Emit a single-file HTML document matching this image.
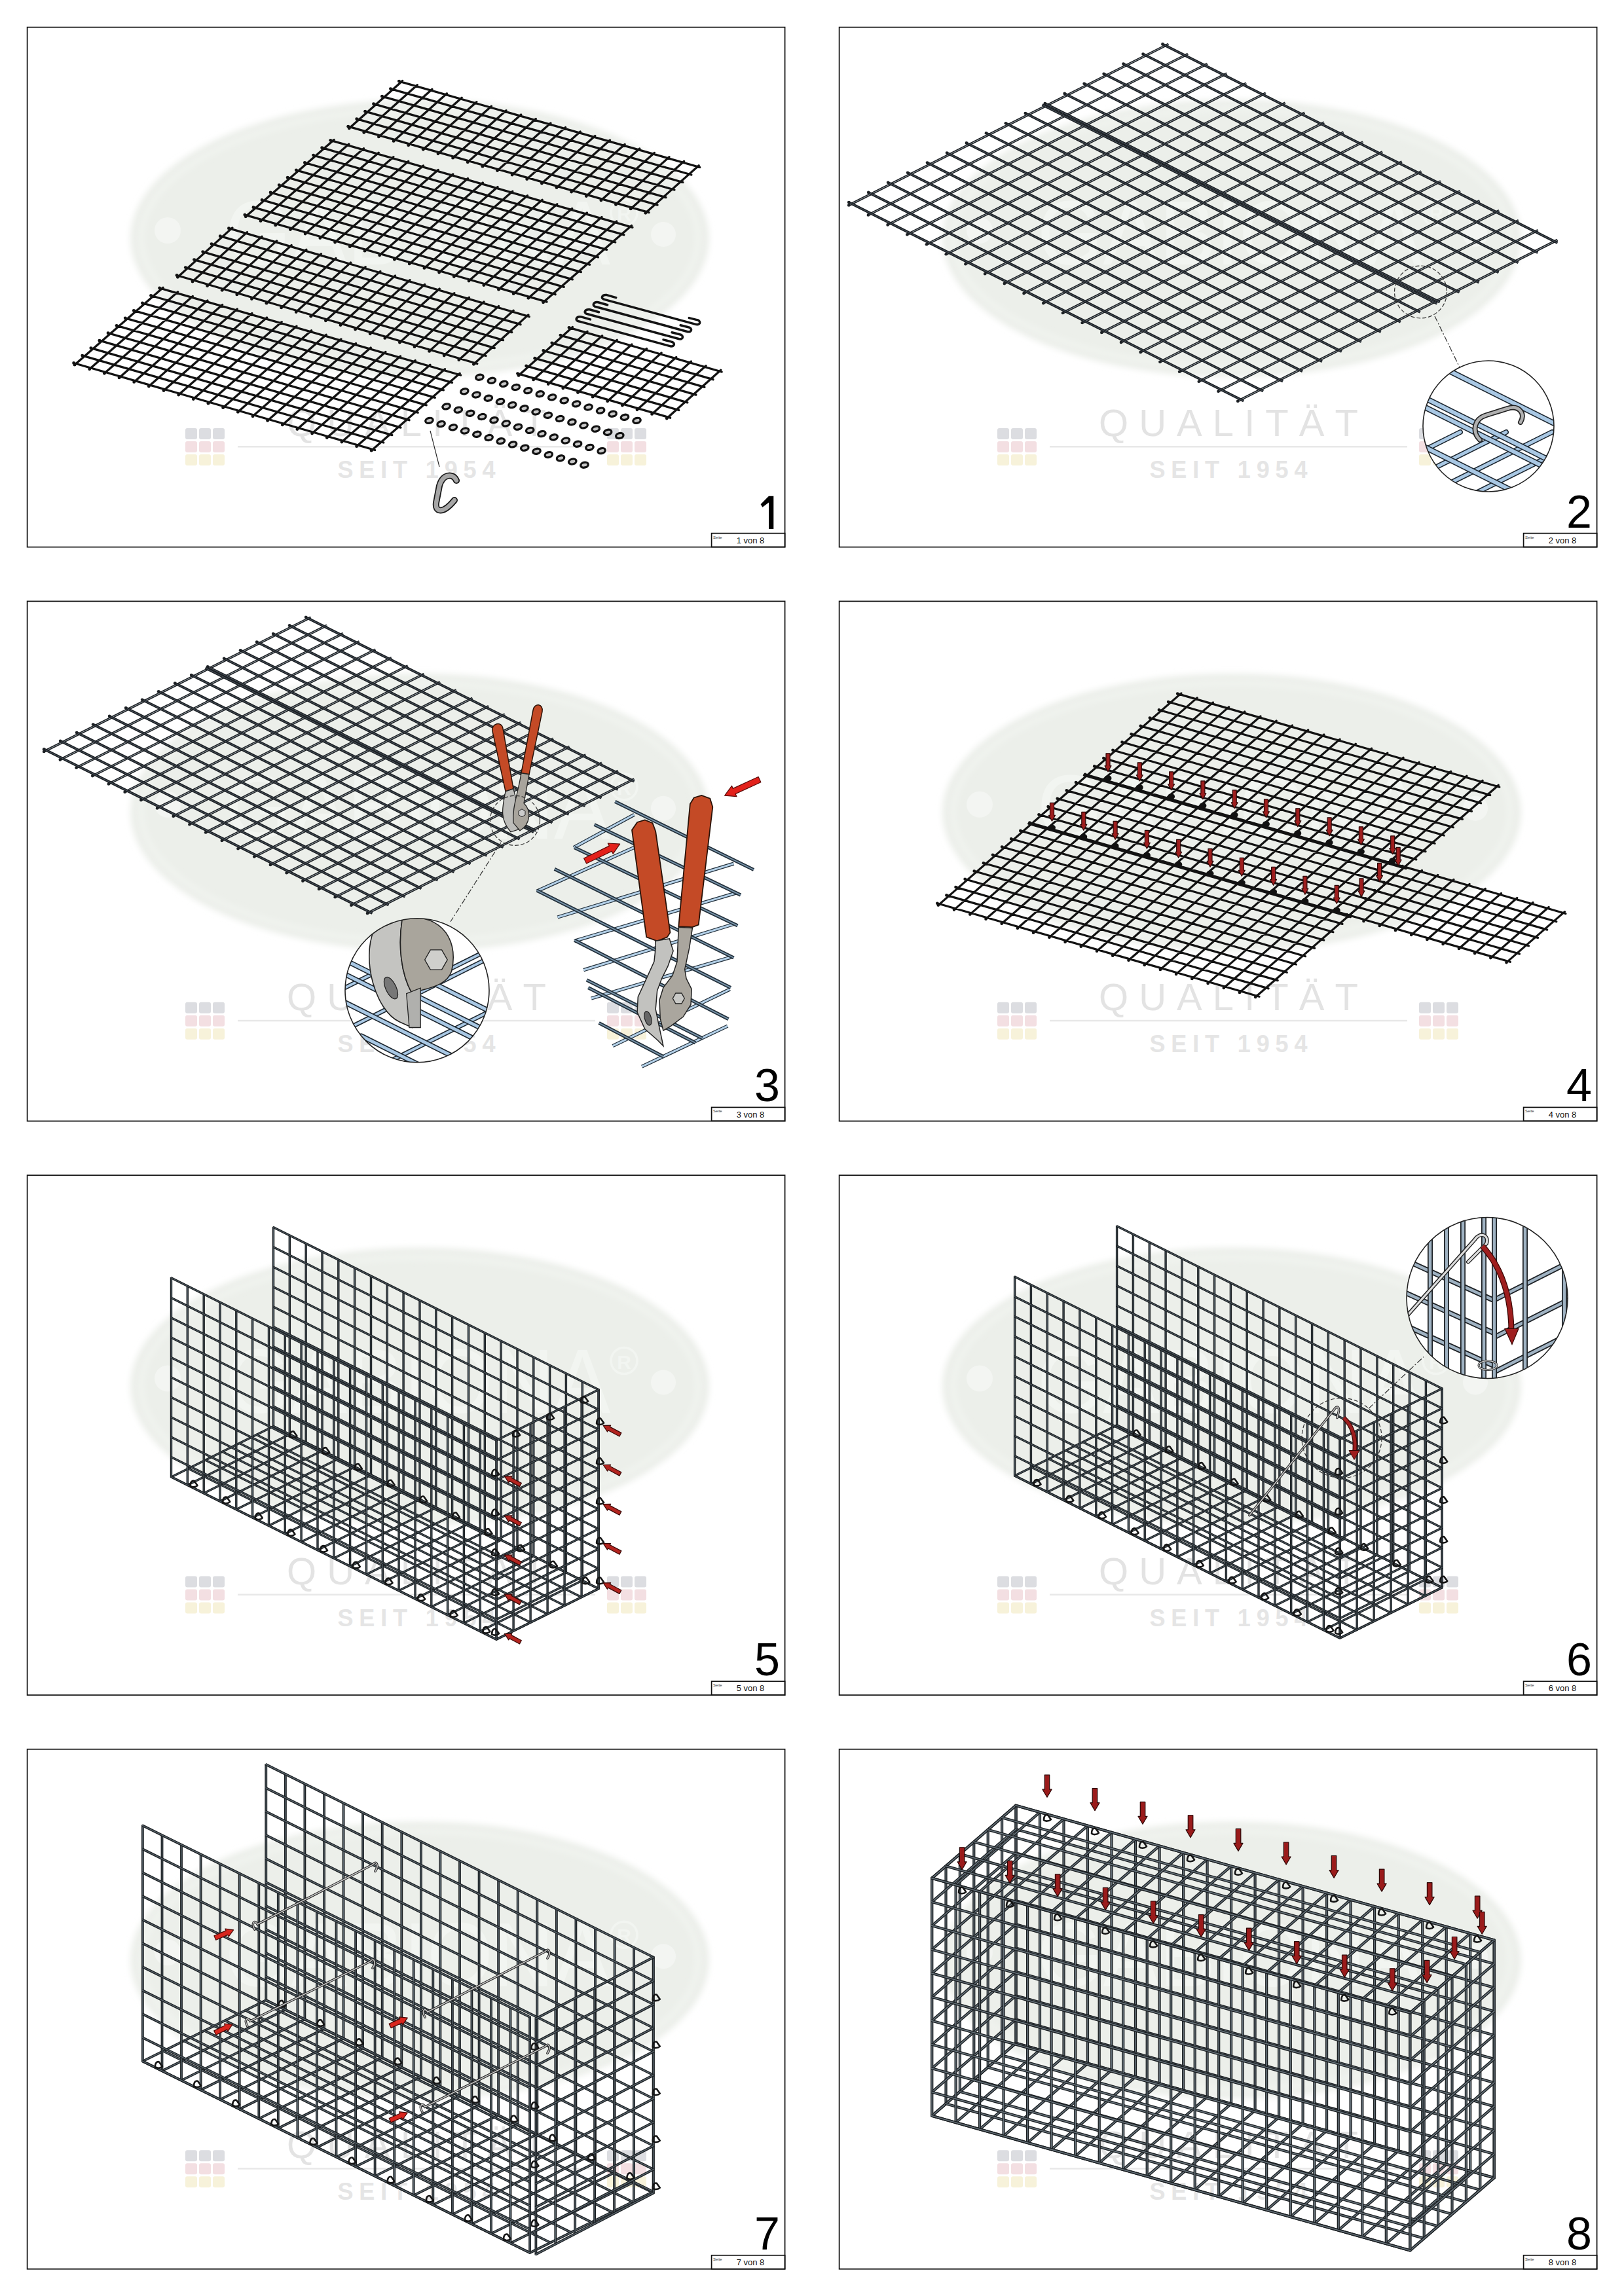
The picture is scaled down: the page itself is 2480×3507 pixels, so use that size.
<!DOCTYPE html><html><head><meta charset="utf-8"><style>html,body{margin:0;padding:0;background:#fff;width:2480px;height:3507px;overflow:hidden;}svg{display:block;}</style></head><body>
<svg width="2480" height="3507" viewBox="0 0 2480 3507">
<defs><filter id="soft" x="-5%" y="-5%" width="110%" height="110%"><feGaussianBlur stdDeviation="5"/></filter></defs>
<rect width="100%" height="100%" fill="#fff"/>
<g transform="translate(0 0)">
<g><ellipse cx="641" cy="364" rx="442" ry="212" fill="#ecefea" filter="url(#soft)"/><ellipse cx="641" cy="364" rx="425" ry="197" fill="none" stroke="#f3f6f2" stroke-width="5" filter="url(#soft)"/><circle cx="256" cy="352" r="20" fill="#f3f5f2"/><circle cx="1013" cy="358" r="19" fill="#f3f5f2"/><text x="344" y="404" font-family="Liberation Sans" font-size="140" fill="#f2f5f1" textLength="588" lengthAdjust="spacingAndGlyphs">GABIONA</text><circle cx="953" cy="325" r="20" fill="none" stroke="#f2f5f1" stroke-width="3.5"/><text x="953" y="337" text-anchor="middle" font-family="Liberation Sans" font-weight="bold" font-size="30" fill="#f2f5f1">R</text><text x="636" y="666" text-anchor="middle" font-family="Liberation Sans" font-size="58" fill="#e3e3e3" textLength="396" lengthAdjust="spacing">QUALITÄT</text><rect x="363" y="681" width="546" height="2.5" fill="#e8e8e8"/><text x="636" y="730" text-anchor="middle" font-family="Liberation Sans" font-weight="bold" font-size="36" fill="#e5e5e5" textLength="241" lengthAdjust="spacing">SEIT 1954</text><rect x="283" y="654" width="18" height="17" rx="3" fill="#dcdde1"/><rect x="304" y="654" width="18" height="17" rx="3" fill="#dcdde1"/><rect x="325" y="654" width="18" height="17" rx="3" fill="#dcdde1"/><rect x="283" y="674" width="18" height="17" rx="3" fill="#f3dfe2"/><rect x="304" y="674" width="18" height="17" rx="3" fill="#f3dfe2"/><rect x="325" y="674" width="18" height="17" rx="3" fill="#f3dfe2"/><rect x="283" y="694" width="18" height="17" rx="3" fill="#f7f2da"/><rect x="304" y="694" width="18" height="17" rx="3" fill="#f7f2da"/><rect x="325" y="694" width="18" height="17" rx="3" fill="#f7f2da"/><rect x="927" y="654" width="18" height="17" rx="3" fill="#dcdde1"/><rect x="948" y="654" width="18" height="17" rx="3" fill="#dcdde1"/><rect x="969" y="654" width="18" height="17" rx="3" fill="#dcdde1"/><rect x="927" y="674" width="18" height="17" rx="3" fill="#f3dfe2"/><rect x="948" y="674" width="18" height="17" rx="3" fill="#f3dfe2"/><rect x="969" y="674" width="18" height="17" rx="3" fill="#f3dfe2"/><rect x="927" y="694" width="18" height="17" rx="3" fill="#f7f2da"/><rect x="948" y="694" width="18" height="17" rx="3" fill="#f7f2da"/><rect x="969" y="694" width="18" height="17" rx="3" fill="#f7f2da"/></g>
<path d="M609.3 124.1L1068.7 255.5M596.4 135.6L1055.8 267M583.4 147.2L1042.8 278.5M570.5 158.7L1029.9 290M557.6 170.2L1017 301.6M544.7 181.7L1004 313.1M531.7 193.2L991.1 324.6M614.6 123.4L533.2 195.9M637.3 129.8L555.8 202.4M659.9 136.3L578.4 208.9M682.5 142.8L601.1 215.4M705.2 149.3L623.7 221.8M727.8 155.7L646.3 228.3M750.4 162.2L669 234.8M773 168.7L691.6 241.2M795.7 175.1L714.2 247.7M818.3 181.6L736.9 254.2M840.9 188.1L759.5 260.6M863.6 194.5L782.1 267.1M886.2 201L804.7 273.6M908.8 207.5L827.4 280.1M931.5 214L850 286.5M954.1 220.4L872.6 293M976.7 226.9L895.3 299.5M999.3 233.4L917.9 305.9M1022 239.8L940.5 312.4M1044.6 246.3L963.2 318.9M1067.2 252.8L985.8 325.3" stroke="#121212" stroke-width="3.3" fill="none" stroke-linecap="round"/><g fill="#121212"><circle cx="609.3" cy="124.1" r="2.4"/><circle cx="596.4" cy="135.6" r="2.4"/><circle cx="583.4" cy="147.2" r="2.4"/><circle cx="570.5" cy="158.7" r="2.4"/><circle cx="557.6" cy="170.2" r="2.4"/><circle cx="544.7" cy="181.7" r="2.4"/><circle cx="531.7" cy="193.2" r="2.4"/><circle cx="533.2" cy="195.9" r="2.4"/><circle cx="555.8" cy="202.4" r="2.4"/><circle cx="578.4" cy="208.9" r="2.4"/><circle cx="601.1" cy="215.4" r="2.4"/><circle cx="623.7" cy="221.8" r="2.4"/><circle cx="646.3" cy="228.3" r="2.4"/><circle cx="669" cy="234.8" r="2.4"/><circle cx="691.6" cy="241.2" r="2.4"/><circle cx="714.2" cy="247.7" r="2.4"/><circle cx="736.9" cy="254.2" r="2.4"/><circle cx="759.5" cy="260.6" r="2.4"/><circle cx="782.1" cy="267.1" r="2.4"/><circle cx="804.7" cy="273.6" r="2.4"/><circle cx="827.4" cy="280.1" r="2.4"/><circle cx="850" cy="286.5" r="2.4"/><circle cx="872.6" cy="293" r="2.4"/><circle cx="895.3" cy="299.5" r="2.4"/><circle cx="917.9" cy="305.9" r="2.4"/><circle cx="940.5" cy="312.4" r="2.4"/><circle cx="963.2" cy="318.9" r="2.4"/><circle cx="985.8" cy="325.3" r="2.4"/></g><path d="M504.7 214.3L965.9 347.3M491.6 225.7L952.8 358.7M478.5 237.1L939.7 370M465.4 248.5L926.6 381.4M452.3 259.8L913.5 392.8M439.2 271.2L900.5 404.2M426.2 282.6L887.4 415.6M413.1 294L874.3 426.9M400 305.4L861.2 438.3M386.9 316.7L848.1 449.7M373.8 328.1L835 461.1M510.1 213.6L375.2 330.8M532.8 220.1L398 337.4M555.5 226.7L420.7 343.9M578.2 233.2L443.4 350.5M600.9 239.8L466.1 357M623.7 246.3L488.8 363.6M646.4 252.9L511.6 370.1M669.1 259.4L534.3 376.7M691.8 266L557 383.2M714.5 272.5L579.7 389.8M737.3 279.1L602.4 396.3M760 285.6L625.2 402.9M782.7 292.2L647.9 409.4M805.4 298.7L670.6 416M828.1 305.3L693.3 422.5M850.9 311.8L716 429.1M873.6 318.4L738.8 435.6M896.3 324.9L761.5 442.2M919 331.5L784.2 448.7M941.7 338L806.9 455.3M964.5 344.6L829.6 461.8" stroke="#121212" stroke-width="3.3" fill="none" stroke-linecap="round"/><g fill="#121212"><circle cx="504.7" cy="214.3" r="2.4"/><circle cx="491.6" cy="225.7" r="2.4"/><circle cx="478.5" cy="237.1" r="2.4"/><circle cx="465.4" cy="248.5" r="2.4"/><circle cx="452.3" cy="259.8" r="2.4"/><circle cx="439.2" cy="271.2" r="2.4"/><circle cx="426.2" cy="282.6" r="2.4"/><circle cx="413.1" cy="294" r="2.4"/><circle cx="400" cy="305.4" r="2.4"/><circle cx="386.9" cy="316.7" r="2.4"/><circle cx="373.8" cy="328.1" r="2.4"/><circle cx="375.2" cy="330.8" r="2.4"/><circle cx="398" cy="337.4" r="2.4"/><circle cx="420.7" cy="343.9" r="2.4"/><circle cx="443.4" cy="350.5" r="2.4"/><circle cx="466.1" cy="357" r="2.4"/><circle cx="488.8" cy="363.6" r="2.4"/><circle cx="511.6" cy="370.1" r="2.4"/><circle cx="534.3" cy="376.7" r="2.4"/><circle cx="557" cy="383.2" r="2.4"/><circle cx="579.7" cy="389.8" r="2.4"/><circle cx="602.4" cy="396.3" r="2.4"/><circle cx="625.2" cy="402.9" r="2.4"/><circle cx="647.9" cy="409.4" r="2.4"/><circle cx="670.6" cy="416" r="2.4"/><circle cx="693.3" cy="422.5" r="2.4"/><circle cx="716" cy="429.1" r="2.4"/><circle cx="738.8" cy="435.6" r="2.4"/><circle cx="761.5" cy="442.2" r="2.4"/><circle cx="784.2" cy="448.7" r="2.4"/><circle cx="806.9" cy="455.3" r="2.4"/><circle cx="829.6" cy="461.8" r="2.4"/></g><path d="M349.4 348.7L808.2 483.7M336.2 360.7L795 495.7M323 372.6L781.7 507.6M309.7 384.6L768.5 519.6M296.5 396.6L755.3 531.6M283.3 408.6L742 543.5M270 420.5L728.8 555.5M354.8 347.9L271.4 423.3M377.4 354.6L294 430M400 361.2L316.6 436.6M422.6 367.9L339.2 443.3M445.2 374.5L361.8 449.9M467.8 381.2L384.4 456.6M490.4 387.8L407 463.2M513 394.5L429.6 469.9M535.6 401.1L452.2 476.5M558.2 407.8L474.8 483.2M580.8 414.4L497.4 489.8M603.4 421.1L520 496.5M626 427.7L542.6 503.1M648.6 434.4L565.2 509.8M671.2 441L587.8 516.4M693.8 447.7L610.4 523.1M716.4 454.3L633 529.7M739 461L655.6 536.4M761.6 467.6L678.2 543M784.2 474.3L700.8 549.7M806.8 480.9L723.4 556.3" stroke="#121212" stroke-width="3.3" fill="none" stroke-linecap="round"/><g fill="#121212"><circle cx="349.4" cy="348.7" r="2.4"/><circle cx="336.2" cy="360.7" r="2.4"/><circle cx="323" cy="372.6" r="2.4"/><circle cx="309.7" cy="384.6" r="2.4"/><circle cx="296.5" cy="396.6" r="2.4"/><circle cx="283.3" cy="408.6" r="2.4"/><circle cx="270" cy="420.5" r="2.4"/><circle cx="271.4" cy="423.3" r="2.4"/><circle cx="294" cy="430" r="2.4"/><circle cx="316.6" cy="436.6" r="2.4"/><circle cx="339.2" cy="443.3" r="2.4"/><circle cx="361.8" cy="449.9" r="2.4"/><circle cx="384.4" cy="456.6" r="2.4"/><circle cx="407" cy="463.2" r="2.4"/><circle cx="429.6" cy="469.9" r="2.4"/><circle cx="452.2" cy="476.5" r="2.4"/><circle cx="474.8" cy="483.2" r="2.4"/><circle cx="497.4" cy="489.8" r="2.4"/><circle cx="520" cy="496.5" r="2.4"/><circle cx="542.6" cy="503.1" r="2.4"/><circle cx="565.2" cy="509.8" r="2.4"/><circle cx="587.8" cy="516.4" r="2.4"/><circle cx="610.4" cy="523.1" r="2.4"/><circle cx="633" cy="529.7" r="2.4"/><circle cx="655.6" cy="536.4" r="2.4"/><circle cx="678.2" cy="543" r="2.4"/><circle cx="700.8" cy="549.7" r="2.4"/><circle cx="723.4" cy="556.3" r="2.4"/></g><path d="M243.6 440L703.6 573M230.5 451.5L690.5 584.4M217.4 462.9L677.4 595.9M204.3 474.4L664.3 607.3M191.2 485.8L651.2 618.8M178.1 497.3L638.1 630.2M165 508.7L625 641.7M151.9 520.2L611.9 653.1M138.8 531.6L598.8 664.6M125.7 543.1L585.7 676M112.6 554.5L572.6 687.5M249 439.3L114 557.2M271.6 445.8L136.7 563.8M294.3 452.4L159.4 570.3M316.9 458.9L182 576.9M339.6 465.5L204.7 583.4M362.3 472L227.3 590M384.9 478.6L250 596.5M407.6 485.1L272.7 603.1M430.2 491.7L295.3 609.6M452.9 498.2L318 616.2M475.6 504.8L340.6 622.7M498.2 511.3L363.3 629.3M520.9 517.9L386 635.8M543.5 524.4L408.6 642.4M566.2 531L431.3 648.9M588.9 537.5L453.9 655.5M611.5 544.1L476.6 662M634.2 550.6L499.3 668.6M656.8 557.2L521.9 675.1M679.5 563.7L544.6 681.7M702.2 570.3L567.2 688.2" stroke="#121212" stroke-width="3.3" fill="none" stroke-linecap="round"/><g fill="#121212"><circle cx="243.6" cy="440" r="2.4"/><circle cx="230.5" cy="451.5" r="2.4"/><circle cx="217.4" cy="462.9" r="2.4"/><circle cx="204.3" cy="474.4" r="2.4"/><circle cx="191.2" cy="485.8" r="2.4"/><circle cx="178.1" cy="497.3" r="2.4"/><circle cx="165" cy="508.7" r="2.4"/><circle cx="151.9" cy="520.2" r="2.4"/><circle cx="138.8" cy="531.6" r="2.4"/><circle cx="125.7" cy="543.1" r="2.4"/><circle cx="112.6" cy="554.5" r="2.4"/><circle cx="114" cy="557.2" r="2.4"/><circle cx="136.7" cy="563.8" r="2.4"/><circle cx="159.4" cy="570.3" r="2.4"/><circle cx="182" cy="576.9" r="2.4"/><circle cx="204.7" cy="583.4" r="2.4"/><circle cx="227.3" cy="590" r="2.4"/><circle cx="250" cy="596.5" r="2.4"/><circle cx="272.7" cy="603.1" r="2.4"/><circle cx="295.3" cy="609.6" r="2.4"/><circle cx="318" cy="616.2" r="2.4"/><circle cx="340.6" cy="622.7" r="2.4"/><circle cx="363.3" cy="629.3" r="2.4"/><circle cx="386" cy="635.8" r="2.4"/><circle cx="408.6" cy="642.4" r="2.4"/><circle cx="431.3" cy="648.9" r="2.4"/><circle cx="453.9" cy="655.5" r="2.4"/><circle cx="476.6" cy="662" r="2.4"/><circle cx="499.3" cy="668.6" r="2.4"/><circle cx="521.9" cy="675.1" r="2.4"/><circle cx="544.6" cy="681.7" r="2.4"/><circle cx="567.2" cy="688.2" r="2.4"/></g><path d="M869 500.4L1102.1 568M855.9 512.1L1089 579.7M842.8 523.8L1075.9 591.4M829.8 535.5L1062.9 603.1M816.7 547.2L1049.8 614.8M803.6 558.9L1036.7 626.5M790.5 570.6L1023.6 638.2M874.4 499.6L792 573.4M897 506.2L814.6 579.9M919.6 512.8L837.2 586.5M942.3 519.3L859.8 593M964.9 525.9L882.5 599.6M987.5 532.4L905.1 606.2M1010.1 539L927.7 612.7M1032.8 545.6L950.4 619.3M1055.4 552.1L973 625.8M1078 558.7L995.6 632.4M1100.7 565.2L1018.3 639" stroke="#121212" stroke-width="3.3" fill="none" stroke-linecap="round"/><g fill="#121212"><circle cx="869" cy="500.4" r="2.4"/><circle cx="855.9" cy="512.1" r="2.4"/><circle cx="842.8" cy="523.8" r="2.4"/><circle cx="829.8" cy="535.5" r="2.4"/><circle cx="816.7" cy="547.2" r="2.4"/><circle cx="803.6" cy="558.9" r="2.4"/><circle cx="790.5" cy="570.6" r="2.4"/><circle cx="792" cy="573.4" r="2.4"/><circle cx="814.6" cy="579.9" r="2.4"/><circle cx="837.2" cy="586.5" r="2.4"/><circle cx="859.8" cy="593" r="2.4"/><circle cx="882.5" cy="599.6" r="2.4"/><circle cx="905.1" cy="606.2" r="2.4"/><circle cx="927.7" cy="612.7" r="2.4"/><circle cx="950.4" cy="619.3" r="2.4"/><circle cx="973" cy="625.8" r="2.4"/><circle cx="995.6" cy="632.4" r="2.4"/><circle cx="1018.3" cy="639" r="2.4"/></g><path d="M940.7 454.6 L926.7 450.6 C918.7 449.6 916.7 456.6 923.7 457.6 L1063.3 495.6 C1070.3 496.6 1070.3 489.6 1064.3 488.6 L1052.3 485.6" stroke="#141414" stroke-width="3.5" fill="none" stroke-linecap="round" stroke-linejoin="round"/><path d="M927.6 465.7 L913.6 461.7 C905.6 460.7 903.6 467.7 910.6 468.7 L1050.2 506.7 C1057.2 507.7 1057.2 500.7 1051.2 499.7 L1039.2 496.7" stroke="#141414" stroke-width="3.5" fill="none" stroke-linecap="round" stroke-linejoin="round"/><path d="M914.5 476.8 L900.5 472.8 C892.5 471.8 890.5 478.8 897.5 479.8 L1037.1 517.8 C1044.1 518.8 1044.1 511.8 1038.1 510.8 L1026.1 507.8" stroke="#141414" stroke-width="3.5" fill="none" stroke-linecap="round" stroke-linejoin="round"/><path d="M901.4 487.9 L887.4 483.9 C879.4 482.9 877.4 489.9 884.4 490.9 L1024 528.9 C1031 529.9 1031 522.9 1025 521.9 L1013 518.9" stroke="#141414" stroke-width="3.5" fill="none" stroke-linecap="round" stroke-linejoin="round"/><g fill="#c8c8c8" stroke="#121212" stroke-width="3.3"><ellipse cx="732.4" cy="576.2" rx="5.8" ry="3.9" transform="rotate(-15 732.4 576.2)"/><ellipse cx="750.9" cy="581.3" rx="5.8" ry="3.9" transform="rotate(-15 750.9 581.3)"/><ellipse cx="769.3" cy="586.4" rx="5.8" ry="3.9" transform="rotate(-15 769.3 586.4)"/><ellipse cx="787.8" cy="591.5" rx="5.8" ry="3.9" transform="rotate(-15 787.8 591.5)"/><ellipse cx="806.3" cy="596.6" rx="5.8" ry="3.9" transform="rotate(-15 806.3 596.6)"/><ellipse cx="824.7" cy="601.7" rx="5.8" ry="3.9" transform="rotate(-15 824.7 601.7)"/><ellipse cx="843.2" cy="606.8" rx="5.8" ry="3.9" transform="rotate(-15 843.2 606.8)"/><ellipse cx="861.7" cy="611.8" rx="5.8" ry="3.9" transform="rotate(-15 861.7 611.8)"/><ellipse cx="880.2" cy="616.9" rx="5.8" ry="3.9" transform="rotate(-15 880.2 616.9)"/><ellipse cx="898.6" cy="622" rx="5.8" ry="3.9" transform="rotate(-15 898.6 622)"/><ellipse cx="917.1" cy="627.1" rx="5.8" ry="3.9" transform="rotate(-15 917.1 627.1)"/><ellipse cx="935.6" cy="632.2" rx="5.8" ry="3.9" transform="rotate(-15 935.6 632.2)"/><ellipse cx="954" cy="637.3" rx="5.8" ry="3.9" transform="rotate(-15 954 637.3)"/><ellipse cx="972.5" cy="642.4" rx="5.8" ry="3.9" transform="rotate(-15 972.5 642.4)"/><ellipse cx="709.3" cy="597.8" rx="5.8" ry="3.9" transform="rotate(-15 709.3 597.8)"/><ellipse cx="727.5" cy="603" rx="5.8" ry="3.9" transform="rotate(-15 727.5 603)"/><ellipse cx="745.8" cy="608.2" rx="5.8" ry="3.9" transform="rotate(-15 745.8 608.2)"/><ellipse cx="764" cy="613.4" rx="5.8" ry="3.9" transform="rotate(-15 764 613.4)"/><ellipse cx="782.2" cy="618.6" rx="5.8" ry="3.9" transform="rotate(-15 782.2 618.6)"/><ellipse cx="800.5" cy="623.8" rx="5.8" ry="3.9" transform="rotate(-15 800.5 623.8)"/><ellipse cx="818.7" cy="629" rx="5.8" ry="3.9" transform="rotate(-15 818.7 629)"/><ellipse cx="836.9" cy="634.3" rx="5.8" ry="3.9" transform="rotate(-15 836.9 634.3)"/><ellipse cx="855.1" cy="639.5" rx="5.8" ry="3.9" transform="rotate(-15 855.1 639.5)"/><ellipse cx="873.4" cy="644.7" rx="5.8" ry="3.9" transform="rotate(-15 873.4 644.7)"/><ellipse cx="891.6" cy="649.9" rx="5.8" ry="3.9" transform="rotate(-15 891.6 649.9)"/><ellipse cx="909.8" cy="655.1" rx="5.8" ry="3.9" transform="rotate(-15 909.8 655.1)"/><ellipse cx="928.1" cy="660.3" rx="5.8" ry="3.9" transform="rotate(-15 928.1 660.3)"/><ellipse cx="946.3" cy="665.5" rx="5.8" ry="3.9" transform="rotate(-15 946.3 665.5)"/><ellipse cx="681.6" cy="620.9" rx="5.8" ry="3.9" transform="rotate(-15 681.6 620.9)"/><ellipse cx="699.8" cy="626.1" rx="5.8" ry="3.9" transform="rotate(-15 699.8 626.1)"/><ellipse cx="718.1" cy="631.3" rx="5.8" ry="3.9" transform="rotate(-15 718.1 631.3)"/><ellipse cx="736.3" cy="636.5" rx="5.8" ry="3.9" transform="rotate(-15 736.3 636.5)"/><ellipse cx="754.5" cy="641.7" rx="5.8" ry="3.9" transform="rotate(-15 754.5 641.7)"/><ellipse cx="772.8" cy="646.9" rx="5.8" ry="3.9" transform="rotate(-15 772.8 646.9)"/><ellipse cx="791" cy="652.1" rx="5.8" ry="3.9" transform="rotate(-15 791 652.1)"/><ellipse cx="809.2" cy="657.4" rx="5.8" ry="3.9" transform="rotate(-15 809.2 657.4)"/><ellipse cx="827.4" cy="662.6" rx="5.8" ry="3.9" transform="rotate(-15 827.4 662.6)"/><ellipse cx="845.7" cy="667.8" rx="5.8" ry="3.9" transform="rotate(-15 845.7 667.8)"/><ellipse cx="863.9" cy="673" rx="5.8" ry="3.9" transform="rotate(-15 863.9 673)"/><ellipse cx="882.1" cy="678.2" rx="5.8" ry="3.9" transform="rotate(-15 882.1 678.2)"/><ellipse cx="900.4" cy="683.4" rx="5.8" ry="3.9" transform="rotate(-15 900.4 683.4)"/><ellipse cx="918.6" cy="688.6" rx="5.8" ry="3.9" transform="rotate(-15 918.6 688.6)"/><ellipse cx="655.4" cy="642.4" rx="5.8" ry="3.9" transform="rotate(-15 655.4 642.4)"/><ellipse cx="673.6" cy="647.6" rx="5.8" ry="3.9" transform="rotate(-15 673.6 647.6)"/><ellipse cx="691.9" cy="652.8" rx="5.8" ry="3.9" transform="rotate(-15 691.9 652.8)"/><ellipse cx="710.1" cy="658" rx="5.8" ry="3.9" transform="rotate(-15 710.1 658)"/><ellipse cx="728.4" cy="663.3" rx="5.8" ry="3.9" transform="rotate(-15 728.4 663.3)"/><ellipse cx="746.6" cy="668.5" rx="5.8" ry="3.9" transform="rotate(-15 746.6 668.5)"/><ellipse cx="764.8" cy="673.7" rx="5.8" ry="3.9" transform="rotate(-15 764.8 673.7)"/><ellipse cx="783.1" cy="678.9" rx="5.8" ry="3.9" transform="rotate(-15 783.1 678.9)"/><ellipse cx="801.3" cy="684.1" rx="5.8" ry="3.9" transform="rotate(-15 801.3 684.1)"/><ellipse cx="819.5" cy="689.3" rx="5.8" ry="3.9" transform="rotate(-15 819.5 689.3)"/><ellipse cx="837.8" cy="694.6" rx="5.8" ry="3.9" transform="rotate(-15 837.8 694.6)"/><ellipse cx="856" cy="699.8" rx="5.8" ry="3.9" transform="rotate(-15 856 699.8)"/><ellipse cx="874.3" cy="705" rx="5.8" ry="3.9" transform="rotate(-15 874.3 705)"/><ellipse cx="892.5" cy="710.2" rx="5.8" ry="3.9" transform="rotate(-15 892.5 710.2)"/></g><line x1="657" y1="658" x2="671" y2="713" stroke="#222" stroke-width="1.1"/><path d="M697 734 C692 722 676 724 671 742 L666 768 C664 782 676 786 694 764" stroke="#1a1a1a" stroke-width="10" fill="none" stroke-linecap="round"/><path d="M697 734 C692 722 676 724 671 742 L666 768 C664 782 676 786 694 764" stroke="#a6a6a6" stroke-width="6.5" fill="none" stroke-linecap="round"/>
<rect x="41.6" y="41.6" width="1157" height="794" fill="none" stroke="#111" stroke-width="1.7"/><rect x="1086.6" y="814.6" width="112" height="20.9" fill="none" stroke="#111" stroke-width="1.7"/><text x="1089" y="822.5" font-family="Liberation Sans" font-size="6" fill="#333">Seite</text><text x="1146" y="829.8" text-anchor="middle" font-family="Liberation Sans" font-size="13" fill="#111">1 von 8</text><path d="M1174 757.8 L1181.3 757.8 L1181.3 808 L1174 808 L1174 767.5 L1164.4 774.8 L1161.6 770.2 Z" fill="#000"/>
</g>
<g transform="translate(1240 0)">
<g><ellipse cx="641" cy="364" rx="442" ry="212" fill="#ecefea" filter="url(#soft)"/><ellipse cx="641" cy="364" rx="425" ry="197" fill="none" stroke="#f3f6f2" stroke-width="5" filter="url(#soft)"/><circle cx="256" cy="352" r="20" fill="#f3f5f2"/><circle cx="1013" cy="358" r="19" fill="#f3f5f2"/><text x="344" y="404" font-family="Liberation Sans" font-size="140" fill="#f2f5f1" textLength="588" lengthAdjust="spacingAndGlyphs">GABIONA</text><circle cx="953" cy="325" r="20" fill="none" stroke="#f2f5f1" stroke-width="3.5"/><text x="953" y="337" text-anchor="middle" font-family="Liberation Sans" font-weight="bold" font-size="30" fill="#f2f5f1">R</text><text x="636" y="666" text-anchor="middle" font-family="Liberation Sans" font-size="58" fill="#e3e3e3" textLength="396" lengthAdjust="spacing">QUALITÄT</text><rect x="363" y="681" width="546" height="2.5" fill="#e8e8e8"/><text x="636" y="730" text-anchor="middle" font-family="Liberation Sans" font-weight="bold" font-size="36" fill="#e5e5e5" textLength="241" lengthAdjust="spacing">SEIT 1954</text><rect x="283" y="654" width="18" height="17" rx="3" fill="#dcdde1"/><rect x="304" y="654" width="18" height="17" rx="3" fill="#dcdde1"/><rect x="325" y="654" width="18" height="17" rx="3" fill="#dcdde1"/><rect x="283" y="674" width="18" height="17" rx="3" fill="#f3dfe2"/><rect x="304" y="674" width="18" height="17" rx="3" fill="#f3dfe2"/><rect x="325" y="674" width="18" height="17" rx="3" fill="#f3dfe2"/><rect x="283" y="694" width="18" height="17" rx="3" fill="#f7f2da"/><rect x="304" y="694" width="18" height="17" rx="3" fill="#f7f2da"/><rect x="325" y="694" width="18" height="17" rx="3" fill="#f7f2da"/><rect x="927" y="654" width="18" height="17" rx="3" fill="#dcdde1"/><rect x="948" y="654" width="18" height="17" rx="3" fill="#dcdde1"/><rect x="969" y="654" width="18" height="17" rx="3" fill="#dcdde1"/><rect x="927" y="674" width="18" height="17" rx="3" fill="#f3dfe2"/><rect x="948" y="674" width="18" height="17" rx="3" fill="#f3dfe2"/><rect x="969" y="674" width="18" height="17" rx="3" fill="#f3dfe2"/><rect x="927" y="694" width="18" height="17" rx="3" fill="#f7f2da"/><rect x="948" y="694" width="18" height="17" rx="3" fill="#f7f2da"/><rect x="969" y="694" width="18" height="17" rx="3" fill="#f7f2da"/></g>
<path d="M544.4 67.3L56.2 313.5M574.1 82.3L85.9 328.4M603.8 97.3L115.6 343.4M633.5 112.2L145.3 358.3M663.2 127.2L175 373.3M692.9 142.1L204.7 388.3M722.6 157.1L234.4 403.2M752.3 172.1L264.1 418.2M782 187L293.8 433.1M811.7 202L323.5 448.1M841.4 216.9L353.2 463.1M871.1 231.9L382.9 478M900.8 246.9L412.6 493M930.5 261.8L442.3 507.9M960.2 276.8L472 522.9M989.9 291.7L501.7 537.9M1019.6 306.7L531.4 552.8M1049.3 321.7L561.1 567.8M1079 336.6L590.8 582.7M1108.7 351.6L620.5 597.7M1138.4 366.5L650.2 612.7" stroke="#1c2024" stroke-width="3.7" fill="none" stroke-linecap="butt"/><path d="M544.4 67.3L56.2 313.5M574.1 82.3L85.9 328.4M603.8 97.3L115.6 343.4M633.5 112.2L145.3 358.3M663.2 127.2L175 373.3M692.9 142.1L204.7 388.3M722.6 157.1L234.4 403.2M752.3 172.1L264.1 418.2M782 187L293.8 433.1M811.7 202L323.5 448.1M841.4 216.9L353.2 463.1M871.1 231.9L382.9 478M900.8 246.9L412.6 493M930.5 261.8L442.3 507.9M960.2 276.8L472 522.9M989.9 291.7L501.7 537.9M1019.6 306.7L531.4 552.8M1049.3 321.7L561.1 567.8M1079 336.6L590.8 582.7M1108.7 351.6L620.5 597.7M1138.4 366.5L650.2 612.7" stroke="#a3adb3" stroke-width="0.9" fill="none" stroke-linecap="butt"/><path d="M535.4 67.4L1138.4 371M505.5 82.5L1108.4 386.1M475.5 97.6L1078.5 401.2M445.6 112.7L1048.5 416.3M415.6 127.8L1018.6 431.4M385.7 142.9L988.6 446.5M355.7 158L958.7 461.6M325.8 173.1L928.7 476.7M295.8 188.2L898.8 491.8M265.9 203.3L868.8 506.9M235.9 218.4L838.9 522M206 233.5L808.9 537.1M176 248.6L779 552.2M146.1 263.7L749 567.3M116.1 278.8L719.1 582.4M86.2 293.9L689.1 597.5M56.2 309L659.2 612.6" stroke="#1c2024" stroke-width="3.9" fill="none" stroke-linecap="butt"/><path d="M535.4 67.4L1138.4 371M505.5 82.5L1108.4 386.1M475.5 97.6L1078.5 401.2M445.6 112.7L1048.5 416.3M415.6 127.8L1018.6 431.4M385.7 142.9L988.6 446.5M355.7 158L958.7 461.6M325.8 173.1L928.7 476.7M295.8 188.2L898.8 491.8M265.9 203.3L868.8 506.9M235.9 218.4L838.9 522M206 233.5L808.9 537.1M176 248.6L779 552.2M146.1 263.7L749 567.3M116.1 278.8L719.1 582.4M86.2 293.9L689.1 597.5M56.2 309L659.2 612.6" stroke="#4b5560" stroke-width="1.0" fill="none" stroke-linecap="butt"/><path d="M351.6 160.1L954.5 463.8" stroke="#1c2024" stroke-width="3.9" fill="none" stroke-linecap="butt"/><path d="M351.6 160.1L954.5 463.8" stroke="#4b5560" stroke-width="1.0" fill="none" stroke-linecap="butt"/><g fill="#1c2024"><circle cx="535.4" cy="67.4" r="2.3"/><circle cx="505.5" cy="82.5" r="2.3"/><circle cx="475.5" cy="97.6" r="2.3"/><circle cx="445.6" cy="112.7" r="2.3"/><circle cx="415.6" cy="127.8" r="2.3"/><circle cx="385.7" cy="142.9" r="2.3"/><circle cx="355.7" cy="158" r="2.3"/><circle cx="325.8" cy="173.1" r="2.3"/><circle cx="295.8" cy="188.2" r="2.3"/><circle cx="265.9" cy="203.3" r="2.3"/><circle cx="235.9" cy="218.4" r="2.3"/><circle cx="206" cy="233.5" r="2.3"/><circle cx="176" cy="248.6" r="2.3"/><circle cx="146.1" cy="263.7" r="2.3"/><circle cx="116.1" cy="278.8" r="2.3"/><circle cx="86.2" cy="293.9" r="2.3"/><circle cx="56.2" cy="309" r="2.3"/><circle cx="56.2" cy="313.5" r="2.3"/><circle cx="85.9" cy="328.4" r="2.3"/><circle cx="115.6" cy="343.4" r="2.3"/><circle cx="145.3" cy="358.3" r="2.3"/><circle cx="175" cy="373.3" r="2.3"/><circle cx="204.7" cy="388.3" r="2.3"/><circle cx="234.4" cy="403.2" r="2.3"/><circle cx="264.1" cy="418.2" r="2.3"/><circle cx="293.8" cy="433.1" r="2.3"/><circle cx="323.5" cy="448.1" r="2.3"/><circle cx="353.2" cy="463.1" r="2.3"/><circle cx="382.9" cy="478" r="2.3"/><circle cx="412.6" cy="493" r="2.3"/><circle cx="442.3" cy="507.9" r="2.3"/><circle cx="472" cy="522.9" r="2.3"/><circle cx="501.7" cy="537.9" r="2.3"/><circle cx="531.4" cy="552.8" r="2.3"/><circle cx="561.1" cy="567.8" r="2.3"/><circle cx="590.8" cy="582.7" r="2.3"/><circle cx="620.5" cy="597.7" r="2.3"/><circle cx="650.2" cy="612.7" r="2.3"/></g><circle cx="929.5" cy="446" r="40" fill="none" stroke="#333" stroke-width="1.2" stroke-dasharray="6 3"/><line x1="951" y1="483" x2="989" y2="561" stroke="#333" stroke-width="1.2" stroke-dasharray="9 3 2 3"/><clipPath id="dc2"><circle cx="1033" cy="651" r="100"/></clipPath><circle cx="1033" cy="651" r="100" fill="#fff"/><g clip-path="url(#dc2)"><path d="M790 760L990 660M860 760L1060 660M930 760L1130 660M1000 760L1200 660M1070 760L1270 660M1140 760L1340 660" stroke="#1d2730" stroke-width="8" fill="none" stroke-linecap="round"/><path d="M790 760L990 660M860 760L1060 660M930 760L1130 660M1000 760L1200 660M1070 760L1270 660M1140 760L1340 660" stroke="#a9c8e4" stroke-width="4.8" fill="none" stroke-linecap="round"/><path d="M900 530L1160 660M900 590L1160 720M900 604L1160 734M900 665L1160 795" stroke="#1d2730" stroke-width="9" fill="none" stroke-linecap="round"/><path d="M900 530L1160 660M900 590L1160 720M900 604L1160 734M900 665L1160 795" stroke="#a9c8e4" stroke-width="5.8" fill="none" stroke-linecap="round"/><path d="M1020 672 C1008 660 1010 640 1030 634 L1062 624 C1080 618 1090 632 1082 645" stroke="#222" stroke-width="8" fill="none" stroke-linecap="round"/><path d="M1020 672 C1008 660 1010 640 1030 634 L1062 624 C1080 618 1090 632 1082 645" stroke="#b0b0b0" stroke-width="4.6" fill="none" stroke-linecap="round"/></g><circle cx="1033" cy="651" r="100" fill="none" stroke="#222" stroke-width="1.6"/>
<rect x="41.6" y="41.6" width="1157" height="794" fill="none" stroke="#111" stroke-width="1.7"/><rect x="1086.6" y="814.6" width="112" height="20.9" fill="none" stroke="#111" stroke-width="1.7"/><text x="1089" y="822.5" font-family="Liberation Sans" font-size="6" fill="#333">Seite</text><text x="1146" y="829.8" text-anchor="middle" font-family="Liberation Sans" font-size="13" fill="#111">2 von 8</text><text x="1191" y="805.5" text-anchor="end" font-family="Liberation Sans" font-size="70" fill="#000">2</text>
</g>
<g transform="translate(0 876.8)">
<g><ellipse cx="641" cy="364" rx="442" ry="212" fill="#ecefea" filter="url(#soft)"/><ellipse cx="641" cy="364" rx="425" ry="197" fill="none" stroke="#f3f6f2" stroke-width="5" filter="url(#soft)"/><circle cx="256" cy="352" r="20" fill="#f3f5f2"/><circle cx="1013" cy="358" r="19" fill="#f3f5f2"/><text x="344" y="404" font-family="Liberation Sans" font-size="140" fill="#f2f5f1" textLength="588" lengthAdjust="spacingAndGlyphs">GABIONA</text><circle cx="953" cy="325" r="20" fill="none" stroke="#f2f5f1" stroke-width="3.5"/><text x="953" y="337" text-anchor="middle" font-family="Liberation Sans" font-weight="bold" font-size="30" fill="#f2f5f1">R</text><text x="636" y="666" text-anchor="middle" font-family="Liberation Sans" font-size="58" fill="#e3e3e3" textLength="396" lengthAdjust="spacing">QUALITÄT</text><rect x="363" y="681" width="546" height="2.5" fill="#e8e8e8"/><text x="636" y="730" text-anchor="middle" font-family="Liberation Sans" font-weight="bold" font-size="36" fill="#e5e5e5" textLength="241" lengthAdjust="spacing">SEIT 1954</text><rect x="283" y="654" width="18" height="17" rx="3" fill="#dcdde1"/><rect x="304" y="654" width="18" height="17" rx="3" fill="#dcdde1"/><rect x="325" y="654" width="18" height="17" rx="3" fill="#dcdde1"/><rect x="283" y="674" width="18" height="17" rx="3" fill="#f3dfe2"/><rect x="304" y="674" width="18" height="17" rx="3" fill="#f3dfe2"/><rect x="325" y="674" width="18" height="17" rx="3" fill="#f3dfe2"/><rect x="283" y="694" width="18" height="17" rx="3" fill="#f7f2da"/><rect x="304" y="694" width="18" height="17" rx="3" fill="#f7f2da"/><rect x="325" y="694" width="18" height="17" rx="3" fill="#f7f2da"/><rect x="927" y="654" width="18" height="17" rx="3" fill="#dcdde1"/><rect x="948" y="654" width="18" height="17" rx="3" fill="#dcdde1"/><rect x="969" y="654" width="18" height="17" rx="3" fill="#dcdde1"/><rect x="927" y="674" width="18" height="17" rx="3" fill="#f3dfe2"/><rect x="948" y="674" width="18" height="17" rx="3" fill="#f3dfe2"/><rect x="969" y="674" width="18" height="17" rx="3" fill="#f3dfe2"/><rect x="927" y="694" width="18" height="17" rx="3" fill="#f7f2da"/><rect x="948" y="694" width="18" height="17" rx="3" fill="#f7f2da"/><rect x="969" y="694" width="18" height="17" rx="3" fill="#f7f2da"/></g>
<path d="M474.6 66L67.1 271.2M499.2 78.4L91.8 283.6M524 90.7L116.5 295.9M548.6 103.1L141.2 308.3M573.4 115.4L165.9 320.6M598 127.8L190.6 333M622.8 140.1L215.3 345.3M647.5 152.5L240 357.7M672.1 164.8L264.7 370M696.9 177.2L289.4 382.4M721.5 189.5L314.1 394.7M746.2 201.9L338.8 407.1M771 214.2L363.5 419.4M795.6 226.6L388.2 431.8M820.4 238.9L412.9 444.1M845 251.3L437.6 456.5M869.8 263.6L462.3 468.8M894.5 276L487 481.2M919.1 288.3L511.7 493.5M943.9 300.7L536.4 505.9M968.5 313L561 518.2" stroke="#1c2024" stroke-width="3.7" fill="none" stroke-linecap="butt"/><path d="M474.6 66L67.1 271.2M499.2 78.4L91.8 283.6M524 90.7L116.5 295.9M548.6 103.1L141.2 308.3M573.4 115.4L165.9 320.6M598 127.8L190.6 333M622.8 140.1L215.3 345.3M647.5 152.5L240 357.7M672.1 164.8L264.7 370M696.9 177.2L289.4 382.4M721.5 189.5L314.1 394.7M746.2 201.9L338.8 407.1M771 214.2L363.5 419.4M795.6 226.6L388.2 431.8M820.4 238.9L412.9 444.1M845 251.3L437.6 456.5M869.8 263.6L462.3 468.8M894.5 276L487 481.2M919.1 288.3L511.7 493.5M943.9 300.7L536.4 505.9M968.5 313L561 518.2" stroke="#a3adb3" stroke-width="0.9" fill="none" stroke-linecap="butt"/><path d="M467.1 66L968.5 316.8M442.1 78.6L943.5 329.3M417.1 91.2L918.5 341.9M392.1 103.8L893.5 354.5M367.1 116.4L868.5 367.1M342.1 129L843.5 379.7M317.1 141.6L818.5 392.3M292.1 154.2L793.5 404.9M267.1 166.8L768.5 417.5M242.1 179.4L743.5 430.1M217.1 191.9L718.5 442.7M192.1 204.5L693.5 455.2M167.1 217.1L668.5 467.8M142.1 229.7L643.5 480.4M117.1 242.3L618.5 493M92.1 254.9L593.5 505.6M67.1 267.5L568.5 518.2" stroke="#1c2024" stroke-width="3.9" fill="none" stroke-linecap="butt"/><path d="M467.1 66L968.5 316.8M442.1 78.6L943.5 329.3M417.1 91.2L918.5 341.9M392.1 103.8L893.5 354.5M367.1 116.4L868.5 367.1M342.1 129L843.5 379.7M317.1 141.6L818.5 392.3M292.1 154.2L793.5 404.9M267.1 166.8L768.5 417.5M242.1 179.4L743.5 430.1M217.1 191.9L718.5 442.7M192.1 204.5L693.5 455.2M167.1 217.1L668.5 467.8M142.1 229.7L643.5 480.4M117.1 242.3L618.5 493M92.1 254.9L593.5 505.6M67.1 267.5L568.5 518.2" stroke="#4b5560" stroke-width="1.0" fill="none" stroke-linecap="butt"/><path d="M313.6 143.4L815 394.1" stroke="#1c2024" stroke-width="3.9" fill="none" stroke-linecap="butt"/><path d="M313.6 143.4L815 394.1" stroke="#4b5560" stroke-width="1.0" fill="none" stroke-linecap="butt"/><g fill="#1c2024"><circle cx="467.1" cy="66" r="2.3"/><circle cx="442.1" cy="78.6" r="2.3"/><circle cx="417.1" cy="91.2" r="2.3"/><circle cx="392.1" cy="103.8" r="2.3"/><circle cx="367.1" cy="116.4" r="2.3"/><circle cx="342.1" cy="129" r="2.3"/><circle cx="317.1" cy="141.6" r="2.3"/><circle cx="292.1" cy="154.2" r="2.3"/><circle cx="267.1" cy="166.8" r="2.3"/><circle cx="242.1" cy="179.4" r="2.3"/><circle cx="217.1" cy="191.9" r="2.3"/><circle cx="192.1" cy="204.5" r="2.3"/><circle cx="167.1" cy="217.1" r="2.3"/><circle cx="142.1" cy="229.7" r="2.3"/><circle cx="117.1" cy="242.3" r="2.3"/><circle cx="92.1" cy="254.9" r="2.3"/><circle cx="67.1" cy="267.5" r="2.3"/><circle cx="67.1" cy="271.2" r="2.3"/><circle cx="91.8" cy="283.6" r="2.3"/><circle cx="116.5" cy="295.9" r="2.3"/><circle cx="141.2" cy="308.3" r="2.3"/><circle cx="165.9" cy="320.6" r="2.3"/><circle cx="190.6" cy="333" r="2.3"/><circle cx="215.3" cy="345.3" r="2.3"/><circle cx="240" cy="357.7" r="2.3"/><circle cx="264.7" cy="370" r="2.3"/><circle cx="289.4" cy="382.4" r="2.3"/><circle cx="314.1" cy="394.7" r="2.3"/><circle cx="338.8" cy="407.1" r="2.3"/><circle cx="363.5" cy="419.4" r="2.3"/><circle cx="388.2" cy="431.8" r="2.3"/><circle cx="412.9" cy="444.1" r="2.3"/><circle cx="437.6" cy="456.5" r="2.3"/><circle cx="462.3" cy="468.8" r="2.3"/><circle cx="487" cy="481.2" r="2.3"/><circle cx="511.7" cy="493.5" r="2.3"/><circle cx="536.4" cy="505.9" r="2.3"/><circle cx="561" cy="518.2" r="2.3"/></g><g transform="translate(786 390) scale(1.0)"><path d="M-34 -150 C-36 -162 -20 -166 -18 -154 L-2 -62 L-14 -58 Z" fill="#c44a26" stroke="#2a1208" stroke-width="1.5"/><path d="M28 -182 C30 -194 44 -192 42 -180 L22 -84 L10 -86 Z" fill="#c44a26" stroke="#2a1208" stroke-width="1.5"/><path d="M-14 -58 L-2 -62 C4 -40 6 -30 2 -10 L6 0 L-6 4 C-22 -14 -20 -30 -14 -58Z" fill="#bdbdba" stroke="#222" stroke-width="1.3"/><path d="M10 -86 L22 -84 L14 -40 C26 -28 24 -8 8 2 L-2 -10 C-4 -34 4 -50 10 -86Z" fill="#a8a49c" stroke="#222" stroke-width="1.3"/><path d="M6 -28 L11 -31 L16 -28 L16 -22 L11 -19 L6 -22Z" fill="#ccc" stroke="#222" stroke-width="1"/></g><circle cx="786.5" cy="376.5" r="38" fill="none" stroke="#333" stroke-width="1.2" stroke-dasharray="6 3"/><line x1="765" y1="410" x2="688" y2="531" stroke="#333" stroke-width="1.2" stroke-dasharray="9 3 2 3"/><clipPath id="dc3"><circle cx="637" cy="636" r="110"/></clipPath><circle cx="637" cy="636" r="110" fill="#fff"/><g clip-path="url(#dc3)"><path d="M525.9 632.3L603.4 593.5M534.5 692.7L758.6 580.6M594.8 744.4L758.6 662.5M663.8 753L758.6 705.6M681 606.4L758.6 567.7" stroke="#1d2730" stroke-width="7" fill="none" stroke-linecap="round"/><path d="M525.9 632.3L603.4 593.5M534.5 692.7L758.6 580.6M594.8 744.4L758.6 662.5M663.8 753L758.6 705.6M681 606.4L758.6 567.7" stroke="#a9c8e4" stroke-width="3.8" fill="none" stroke-linecap="round"/><path d="M525.9 589.2L758.6 705.6M517.2 606.4L741.4 718.5M525.9 653.9L706.9 744.4M551.7 705.6L642.2 750.8M642.2 615.1L758.6 673.3" stroke="#1d2730" stroke-width="8" fill="none" stroke-linecap="round"/><path d="M525.9 589.2L758.6 705.6M517.2 606.4L741.4 718.5M525.9 653.9L706.9 744.4M551.7 705.6L642.2 750.8M642.2 615.1L758.6 673.3" stroke="#a9c8e4" stroke-width="4.8" fill="none" stroke-linecap="round"/><path d="M571.1 543.9 C551.7 589.2 573.3 666.8 609.9 684 L629.3 692.7 L629.3 640.9 C612.1 610.8 607.8 567.7 614.2 526.7Z" fill="#c4c4c1" stroke="#222" stroke-width="1.6"/><path d="M614.2 526.7 C663.8 515.9 702.6 550.4 689.7 606.4 C681 632.3 646.6 632.3 629.3 640.9 C612.1 610.8 607.8 567.7 614.2 526.7Z" fill="#a9a59c" stroke="#222" stroke-width="1.6"/><path d="M648.7 589.2L657.3 574.1L674.6 574.1L683.2 589.2L674.6 604.3L657.3 604.3Z" fill="#cfcfcc" stroke="#222" stroke-width="1.4"/><ellipse cx="597" cy="632.3" rx="8" ry="18" fill="#777" stroke="#222" stroke-width="1.3" transform="rotate(-25 597 632.3)"/><path d="M620.7 640.9L642.2 632.3L642.2 692.7L625 692.7Z" fill="#b0b0ad" stroke="#222" stroke-width="1.3"/></g><circle cx="637" cy="636" r="110" fill="none" stroke="#222" stroke-width="1.6"/><path d="M876 417.8L968.5 367.5M819.9 484.4L970.8 416.6M851.5 524.2L1120.5 442.3M877.2 560.5L1125.2 486.8M891.2 604.9L1120.5 534.7M902.9 648.2L1117 585M935.7 720.8L1114.7 634.2M980.2 752.3L1111.2 690.3" stroke="#23303b" stroke-width="5.4" fill="none" stroke-linecap="butt"/><path d="M876 417.8L968.5 367.5M819.9 484.4L970.8 416.6M851.5 524.2L1120.5 442.3M877.2 560.5L1125.2 486.8M891.2 604.9L1120.5 534.7M902.9 648.2L1117 585M935.7 720.8L1114.7 634.2M980.2 752.3L1111.2 690.3" stroke="#b3d0e8" stroke-width="3.0" fill="none" stroke-linecap="butt"/><path d="M939.2 347.6L1151 451.7M907.6 382.7L1131.1 490.3M877.2 417.8L1126.4 537.1M846.8 450.5L1120.5 586.2M819.9 483.3L1115.9 631.8M877.2 559.3L1112.4 679.8M895.9 620.1L1072.6 709.1M898.3 631.8L1062 716.1M914.6 685.7L1012.9 737.1" stroke="#23303b" stroke-width="5.2" fill="none" stroke-linecap="butt"/><path d="M939.2 347.6L1151 451.7M907.6 382.7L1131.1 490.3M877.2 417.8L1126.4 537.1M846.8 450.5L1120.5 586.2M819.9 483.3L1115.9 631.8M877.2 559.3L1112.4 679.8M895.9 620.1L1072.6 709.1M898.3 631.8L1062 716.1M914.6 685.7L1012.9 737.1" stroke="#7894aa" stroke-width="1.8" fill="none" stroke-linecap="butt"/><path d="M965 390.9L973.1 379.2L984.8 375.6L996.5 380.3L1001.2 393.2L1023.4 547.6L1018.8 554.6L1003.6 560.5L987.2 554.6Z" fill="#c44a26" stroke="#2a1208" stroke-width="1.8"/><path d="M1053.9 351.1L1059.7 341.7L1071.4 338.2L1084.3 342.9L1088.3 355.8L1066.7 535.9L1057.4 539.4L1036.3 538.3Z" fill="#c44a26" stroke="#2a1208" stroke-width="1.8"/><path d="M1000.7 560.5L1022.3 557L1028.1 575.7L1019.9 599.1L1010.6 617.8L1003.6 636.5L1001.2 664.6L1005.9 688L1012.9 720.8L1003.6 711.4L984.8 695L973.1 669.3L974.3 645.9L987.2 617.8L998.9 592.1L1001.2 571Z" fill="#c2c2bf" stroke="#222" stroke-width="1.5"/><path d="M1036.3 539.4L1057.4 540.6L1052.7 571L1045.7 603.8L1048 617.8L1056.2 634.2L1055 657.6L1043.3 676.3L1024.6 690.3L1012.9 697.4L1008.2 678.6L1007.1 650.6L1012.9 631.8L1027 613.1L1034 592.1Z" fill="#aaa69e" stroke="#222" stroke-width="1.5"/><path d="M1027.3 648.2 L1031.8 640.2 L1040.8 640.2 L1045.3 648.2 L1040.8 656.2 L1031.8 656.2Z" fill="#c9c9c6" stroke="#222" stroke-width="1.3"/><ellipse cx="989.5" cy="678.6" rx="5" ry="11" fill="#666" stroke="#222" stroke-width="1.2" transform="rotate(-15 989.5 678.6)"/><path d="M1158.1 309.7L1119.3 327.6L1117.5 323.5L1106.7 338.4L1125 339.9L1123.1 335.8L1161.9 317.9Z" fill="#e3211b" stroke="#5a0a08" stroke-width="1.2" stroke-linejoin="round"/><path d="M895.6 442.2L934.2 423.4L936.2 427.4L946.6 412.3L928.3 411.2L930.2 415.3L891.6 434.2Z" fill="#e3211b" stroke="#5a0a08" stroke-width="1.2" stroke-linejoin="round"/>
<rect x="41.6" y="41.6" width="1157" height="794" fill="none" stroke="#111" stroke-width="1.7"/><rect x="1086.6" y="814.6" width="112" height="20.9" fill="none" stroke="#111" stroke-width="1.7"/><text x="1089" y="822.5" font-family="Liberation Sans" font-size="6" fill="#333">Seite</text><text x="1146" y="829.8" text-anchor="middle" font-family="Liberation Sans" font-size="13" fill="#111">3 von 8</text><text x="1191" y="805.5" text-anchor="end" font-family="Liberation Sans" font-size="70" fill="#000">3</text>
</g>
<g transform="translate(1240 876.8)">
<g><ellipse cx="641" cy="364" rx="442" ry="212" fill="#ecefea" filter="url(#soft)"/><ellipse cx="641" cy="364" rx="425" ry="197" fill="none" stroke="#f3f6f2" stroke-width="5" filter="url(#soft)"/><circle cx="256" cy="352" r="20" fill="#f3f5f2"/><circle cx="1013" cy="358" r="19" fill="#f3f5f2"/><text x="344" y="404" font-family="Liberation Sans" font-size="140" fill="#f2f5f1" textLength="588" lengthAdjust="spacingAndGlyphs">GABIONA</text><circle cx="953" cy="325" r="20" fill="none" stroke="#f2f5f1" stroke-width="3.5"/><text x="953" y="337" text-anchor="middle" font-family="Liberation Sans" font-weight="bold" font-size="30" fill="#f2f5f1">R</text><text x="636" y="666" text-anchor="middle" font-family="Liberation Sans" font-size="58" fill="#e3e3e3" textLength="396" lengthAdjust="spacing">QUALITÄT</text><rect x="363" y="681" width="546" height="2.5" fill="#e8e8e8"/><text x="636" y="730" text-anchor="middle" font-family="Liberation Sans" font-weight="bold" font-size="36" fill="#e5e5e5" textLength="241" lengthAdjust="spacing">SEIT 1954</text><rect x="283" y="654" width="18" height="17" rx="3" fill="#dcdde1"/><rect x="304" y="654" width="18" height="17" rx="3" fill="#dcdde1"/><rect x="325" y="654" width="18" height="17" rx="3" fill="#dcdde1"/><rect x="283" y="674" width="18" height="17" rx="3" fill="#f3dfe2"/><rect x="304" y="674" width="18" height="17" rx="3" fill="#f3dfe2"/><rect x="325" y="674" width="18" height="17" rx="3" fill="#f3dfe2"/><rect x="283" y="694" width="18" height="17" rx="3" fill="#f7f2da"/><rect x="304" y="694" width="18" height="17" rx="3" fill="#f7f2da"/><rect x="325" y="694" width="18" height="17" rx="3" fill="#f7f2da"/><rect x="927" y="654" width="18" height="17" rx="3" fill="#dcdde1"/><rect x="948" y="654" width="18" height="17" rx="3" fill="#dcdde1"/><rect x="969" y="654" width="18" height="17" rx="3" fill="#dcdde1"/><rect x="927" y="674" width="18" height="17" rx="3" fill="#f3dfe2"/><rect x="948" y="674" width="18" height="17" rx="3" fill="#f3dfe2"/><rect x="969" y="674" width="18" height="17" rx="3" fill="#f3dfe2"/><rect x="927" y="694" width="18" height="17" rx="3" fill="#f7f2da"/><rect x="948" y="694" width="18" height="17" rx="3" fill="#f7f2da"/><rect x="969" y="694" width="18" height="17" rx="3" fill="#f7f2da"/></g>
<path d="M901.5 446.3L1150.9 518.7M887.4 458.7L1136.8 531M873.2 471L1122.7 543.3M859.1 483.3L1108.6 555.6M845 495.6L1094.5 567.9M830.9 507.9L1080.4 580.2M816.8 520.2L1066.3 592.5M907.2 445.6L818.3 523.1M931.4 452.6L842.5 530.1M955.7 459.6L866.8 537.1M979.9 466.6L891 544.2M1004.1 473.6L915.2 551.2M1028.3 480.7L939.4 558.2M1052.5 487.7L963.6 565.2M1076.8 494.7L987.9 572.2M1101 501.7L1012.1 579.3M1125.2 508.7L1036.3 586.3M1149.4 515.8L1060.5 593.3" stroke="#121212" stroke-width="3.2" fill="none" stroke-linecap="round"/><g fill="#121212"><circle cx="901.5" cy="446.3" r="2.3"/><circle cx="887.4" cy="458.7" r="2.3"/><circle cx="873.2" cy="471" r="2.3"/><circle cx="859.1" cy="483.3" r="2.3"/><circle cx="845" cy="495.6" r="2.3"/><circle cx="830.9" cy="507.9" r="2.3"/><circle cx="816.8" cy="520.2" r="2.3"/><circle cx="818.3" cy="523.1" r="2.3"/><circle cx="842.5" cy="530.1" r="2.3"/><circle cx="866.8" cy="537.1" r="2.3"/><circle cx="891" cy="544.2" r="2.3"/><circle cx="915.2" cy="551.2" r="2.3"/><circle cx="939.4" cy="558.2" r="2.3"/><circle cx="963.6" cy="565.2" r="2.3"/><circle cx="987.9" cy="572.2" r="2.3"/><circle cx="1012.1" cy="579.3" r="2.3"/><circle cx="1036.3" cy="586.3" r="2.3"/><circle cx="1060.5" cy="593.3" r="2.3"/></g><path d="M558.2 182.8L1049.8 325.4M544.1 195.2L1035.7 337.7M529.9 207.5L1021.6 350M515.8 219.8L1007.5 362.3M501.7 232.1L993.4 374.6M487.6 244.4L979.3 386.9M473.5 256.7L965.2 399.2M459.4 269L951.1 411.5M445.3 281.3L937 423.8M431.2 293.6L922.8 436.1M417.1 305.9L908.7 448.5M403 318.3L894.6 460.8M388.8 330.6L880.5 473.1M374.7 342.9L866.4 485.4M360.6 355.2L852.3 497.7M346.5 367.5L838.2 510M332.4 379.8L824.1 522.3M318.3 392.1L810 534.6M304.2 404.4L795.9 546.9M290.1 416.7L781.7 559.2M276 429L767.6 571.6M261.9 441.4L753.5 583.9M247.7 453.7L739.4 596.2M233.6 466L725.3 608.5M219.5 478.3L711.2 620.8M205.4 490.6L697.1 633.1M191.3 502.9L683 645.4M563.9 182.1L192.8 505.8M588.1 189.1L217 512.8M612.4 196.1L241.3 519.8M636.6 203.1L265.5 526.9M660.8 210.1L289.7 533.9M685 217.2L313.9 540.9M709.2 224.2L338.1 547.9M733.5 231.2L362.4 554.9M757.7 238.2L386.6 562M781.9 245.2L410.8 569M806.1 252.3L435 576M830.3 259.3L459.2 583M854.6 266.3L483.5 590M878.8 273.3L507.7 597.1M903 280.3L531.9 604.1M927.2 287.4L556.1 611.1M951.4 294.4L580.3 618.1M975.7 301.4L604.6 625.1M999.9 308.4L628.8 632.2M1024.1 315.4L653 639.2M1048.3 322.5L677.2 646.2" stroke="#121212" stroke-width="3.2" fill="none" stroke-linecap="round"/><path d="M415.4 307.4L907 449.9" stroke="#121212" stroke-width="3.2" fill="none" stroke-linecap="round"/><path d="M330.7 381.3L822.4 523.8" stroke="#121212" stroke-width="3.2" fill="none" stroke-linecap="round"/><g fill="#121212"><circle cx="558.2" cy="182.8" r="2.3"/><circle cx="544.1" cy="195.2" r="2.3"/><circle cx="529.9" cy="207.5" r="2.3"/><circle cx="515.8" cy="219.8" r="2.3"/><circle cx="501.7" cy="232.1" r="2.3"/><circle cx="487.6" cy="244.4" r="2.3"/><circle cx="473.5" cy="256.7" r="2.3"/><circle cx="459.4" cy="269" r="2.3"/><circle cx="445.3" cy="281.3" r="2.3"/><circle cx="431.2" cy="293.6" r="2.3"/><circle cx="417.1" cy="305.9" r="2.3"/><circle cx="403" cy="318.3" r="2.3"/><circle cx="388.8" cy="330.6" r="2.3"/><circle cx="374.7" cy="342.9" r="2.3"/><circle cx="360.6" cy="355.2" r="2.3"/><circle cx="346.5" cy="367.5" r="2.3"/><circle cx="332.4" cy="379.8" r="2.3"/><circle cx="318.3" cy="392.1" r="2.3"/><circle cx="304.2" cy="404.4" r="2.3"/><circle cx="290.1" cy="416.7" r="2.3"/><circle cx="276" cy="429" r="2.3"/><circle cx="261.9" cy="441.4" r="2.3"/><circle cx="247.7" cy="453.7" r="2.3"/><circle cx="233.6" cy="466" r="2.3"/><circle cx="219.5" cy="478.3" r="2.3"/><circle cx="205.4" cy="490.6" r="2.3"/><circle cx="191.3" cy="502.9" r="2.3"/><circle cx="192.8" cy="505.8" r="2.3"/><circle cx="217" cy="512.8" r="2.3"/><circle cx="241.3" cy="519.8" r="2.3"/><circle cx="265.5" cy="526.9" r="2.3"/><circle cx="289.7" cy="533.9" r="2.3"/><circle cx="313.9" cy="540.9" r="2.3"/><circle cx="338.1" cy="547.9" r="2.3"/><circle cx="362.4" cy="554.9" r="2.3"/><circle cx="386.6" cy="562" r="2.3"/><circle cx="410.8" cy="569" r="2.3"/><circle cx="435" cy="576" r="2.3"/><circle cx="459.2" cy="583" r="2.3"/><circle cx="483.5" cy="590" r="2.3"/><circle cx="507.7" cy="597.1" r="2.3"/><circle cx="531.9" cy="604.1" r="2.3"/><circle cx="556.1" cy="611.1" r="2.3"/><circle cx="580.3" cy="618.1" r="2.3"/><circle cx="604.6" cy="625.1" r="2.3"/><circle cx="628.8" cy="632.2" r="2.3"/><circle cx="653" cy="639.2" r="2.3"/><circle cx="677.2" cy="646.2" r="2.3"/></g><ellipse cx="452" cy="312" rx="5.5" ry="4.5" fill="#111"/><path d="M449 274L449 293L447 293L452 302L457 293L455 293L455 274Z" fill="#9e1e1e" stroke="#2a0505" stroke-width="1.2" stroke-linejoin="round"/><ellipse cx="500.3" cy="326" rx="5.5" ry="4.5" fill="#111"/><path d="M497.3 288L497.3 307L495.3 307L500.3 316L505.3 307L503.3 307L503.3 288Z" fill="#9e1e1e" stroke="#2a0505" stroke-width="1.2" stroke-linejoin="round"/><ellipse cx="548.6" cy="340" rx="5.5" ry="4.5" fill="#111"/><path d="M545.6 302L545.6 321L543.6 321L548.6 330L553.6 321L551.6 321L551.6 302Z" fill="#9e1e1e" stroke="#2a0505" stroke-width="1.2" stroke-linejoin="round"/><ellipse cx="596.9" cy="354" rx="5.5" ry="4.5" fill="#111"/><path d="M593.9 316L593.9 335L591.9 335L596.9 344L601.9 335L599.9 335L599.9 316Z" fill="#9e1e1e" stroke="#2a0505" stroke-width="1.2" stroke-linejoin="round"/><ellipse cx="645.2" cy="368" rx="5.5" ry="4.5" fill="#111"/><path d="M642.2 330L642.2 349L640.2 349L645.2 358L650.2 349L648.2 349L648.2 330Z" fill="#9e1e1e" stroke="#2a0505" stroke-width="1.2" stroke-linejoin="round"/><ellipse cx="693.5" cy="382" rx="5.5" ry="4.5" fill="#111"/><path d="M690.5 344L690.5 363L688.5 363L693.5 372L698.5 363L696.5 363L696.5 344Z" fill="#9e1e1e" stroke="#2a0505" stroke-width="1.2" stroke-linejoin="round"/><ellipse cx="741.8" cy="396" rx="5.5" ry="4.5" fill="#111"/><path d="M738.8 358L738.8 377L736.8 377L741.8 386L746.8 377L744.8 377L744.8 358Z" fill="#9e1e1e" stroke="#2a0505" stroke-width="1.2" stroke-linejoin="round"/><ellipse cx="790.1" cy="410" rx="5.5" ry="4.5" fill="#111"/><path d="M787.1 372L787.1 391L785.1 391L790.1 400L795.1 391L793.1 391L793.1 372Z" fill="#9e1e1e" stroke="#2a0505" stroke-width="1.2" stroke-linejoin="round"/><ellipse cx="838.4" cy="424" rx="5.5" ry="4.5" fill="#111"/><path d="M835.4 386L835.4 405L833.4 405L838.4 414L843.4 405L841.4 405L841.4 386Z" fill="#9e1e1e" stroke="#2a0505" stroke-width="1.2" stroke-linejoin="round"/><ellipse cx="886.7" cy="438" rx="5.5" ry="4.5" fill="#111"/><path d="M883.7 400L883.7 419L881.7 419L886.7 428L891.7 419L889.7 419L889.7 400Z" fill="#9e1e1e" stroke="#2a0505" stroke-width="1.2" stroke-linejoin="round"/><ellipse cx="366.5" cy="387.5" rx="5.5" ry="4.5" fill="#111"/><path d="M363.5 349.5L363.5 368.5L361.5 368.5L366.5 377.5L371.5 368.5L369.5 368.5L369.5 349.5Z" fill="#9e1e1e" stroke="#2a0505" stroke-width="1.2" stroke-linejoin="round"/><ellipse cx="414.8" cy="401.5" rx="5.5" ry="4.5" fill="#111"/><path d="M411.8 363.5L411.8 382.5L409.8 382.5L414.8 391.5L419.8 382.5L417.8 382.5L417.8 363.5Z" fill="#9e1e1e" stroke="#2a0505" stroke-width="1.2" stroke-linejoin="round"/><ellipse cx="463.1" cy="415.5" rx="5.5" ry="4.5" fill="#111"/><path d="M460.1 377.5L460.1 396.5L458.1 396.5L463.1 405.5L468.1 396.5L466.1 396.5L466.1 377.5Z" fill="#9e1e1e" stroke="#2a0505" stroke-width="1.2" stroke-linejoin="round"/><ellipse cx="511.4" cy="429.5" rx="5.5" ry="4.5" fill="#111"/><path d="M508.4 391.5L508.4 410.5L506.4 410.5L511.4 419.5L516.4 410.5L514.4 410.5L514.4 391.5Z" fill="#9e1e1e" stroke="#2a0505" stroke-width="1.2" stroke-linejoin="round"/><ellipse cx="559.7" cy="443.5" rx="5.5" ry="4.5" fill="#111"/><path d="M556.7 405.5L556.7 424.5L554.7 424.5L559.7 433.5L564.7 424.5L562.7 424.5L562.7 405.5Z" fill="#9e1e1e" stroke="#2a0505" stroke-width="1.2" stroke-linejoin="round"/><ellipse cx="608" cy="457.5" rx="5.5" ry="4.5" fill="#111"/><path d="M605 419.5L605 438.5L603 438.5L608 447.5L613 438.5L611 438.5L611 419.5Z" fill="#9e1e1e" stroke="#2a0505" stroke-width="1.2" stroke-linejoin="round"/><ellipse cx="656.3" cy="471.5" rx="5.5" ry="4.5" fill="#111"/><path d="M653.3 433.5L653.3 452.5L651.3 452.5L656.3 461.5L661.3 452.5L659.3 452.5L659.3 433.5Z" fill="#9e1e1e" stroke="#2a0505" stroke-width="1.2" stroke-linejoin="round"/><ellipse cx="704.6" cy="485.5" rx="5.5" ry="4.5" fill="#111"/><path d="M701.6 447.5L701.6 466.5L699.6 466.5L704.6 475.5L709.6 466.5L707.6 466.5L707.6 447.5Z" fill="#9e1e1e" stroke="#2a0505" stroke-width="1.2" stroke-linejoin="round"/><ellipse cx="752.9" cy="499.5" rx="5.5" ry="4.5" fill="#111"/><path d="M749.9 461.5L749.9 480.5L747.9 480.5L752.9 489.5L757.9 480.5L755.9 480.5L755.9 461.5Z" fill="#9e1e1e" stroke="#2a0505" stroke-width="1.2" stroke-linejoin="round"/><ellipse cx="801.2" cy="513.5" rx="5.5" ry="4.5" fill="#111"/><path d="M798.2 475.5L798.2 494.5L796.2 494.5L801.2 503.5L806.2 494.5L804.2 494.5L804.2 475.5Z" fill="#9e1e1e" stroke="#2a0505" stroke-width="1.2" stroke-linejoin="round"/><path d="M892.2 417.5L892.2 436.5L890.2 436.5L895.2 445.5L900.2 436.5L898.2 436.5L898.2 417.5Z" fill="#9e1e1e" stroke="#2a0505" stroke-width="1.2" stroke-linejoin="round"/><path d="M836 465L836 484L834 484L839 493L844 484L842 484L842 465Z" fill="#9e1e1e" stroke="#2a0505" stroke-width="1.2" stroke-linejoin="round"/><path d="M863.6 441.6L863.6 460.6L861.6 460.6L866.6 469.6L871.6 460.6L869.6 460.6L869.6 441.6Z" fill="#9e1e1e" stroke="#2a0505" stroke-width="1.2" stroke-linejoin="round"/>
<rect x="41.6" y="41.6" width="1157" height="794" fill="none" stroke="#111" stroke-width="1.7"/><rect x="1086.6" y="814.6" width="112" height="20.9" fill="none" stroke="#111" stroke-width="1.7"/><text x="1089" y="822.5" font-family="Liberation Sans" font-size="6" fill="#333">Seite</text><text x="1146" y="829.8" text-anchor="middle" font-family="Liberation Sans" font-size="13" fill="#111">4 von 8</text><text x="1191" y="805.5" text-anchor="end" font-family="Liberation Sans" font-size="70" fill="#000">4</text>
</g>
<g transform="translate(0 1753.5)">
<g><ellipse cx="641" cy="364" rx="442" ry="212" fill="#ecefea" filter="url(#soft)"/><ellipse cx="641" cy="364" rx="425" ry="197" fill="none" stroke="#f3f6f2" stroke-width="5" filter="url(#soft)"/><circle cx="256" cy="352" r="20" fill="#f3f5f2"/><circle cx="1013" cy="358" r="19" fill="#f3f5f2"/><text x="344" y="404" font-family="Liberation Sans" font-size="140" fill="#f2f5f1" textLength="588" lengthAdjust="spacingAndGlyphs">GABIONA</text><circle cx="953" cy="325" r="20" fill="none" stroke="#f2f5f1" stroke-width="3.5"/><text x="953" y="337" text-anchor="middle" font-family="Liberation Sans" font-weight="bold" font-size="30" fill="#f2f5f1">R</text><text x="636" y="666" text-anchor="middle" font-family="Liberation Sans" font-size="58" fill="#e3e3e3" textLength="396" lengthAdjust="spacing">QUALITÄT</text><rect x="363" y="681" width="546" height="2.5" fill="#e8e8e8"/><text x="636" y="730" text-anchor="middle" font-family="Liberation Sans" font-weight="bold" font-size="36" fill="#e5e5e5" textLength="241" lengthAdjust="spacing">SEIT 1954</text><rect x="283" y="654" width="18" height="17" rx="3" fill="#dcdde1"/><rect x="304" y="654" width="18" height="17" rx="3" fill="#dcdde1"/><rect x="325" y="654" width="18" height="17" rx="3" fill="#dcdde1"/><rect x="283" y="674" width="18" height="17" rx="3" fill="#f3dfe2"/><rect x="304" y="674" width="18" height="17" rx="3" fill="#f3dfe2"/><rect x="325" y="674" width="18" height="17" rx="3" fill="#f3dfe2"/><rect x="283" y="694" width="18" height="17" rx="3" fill="#f7f2da"/><rect x="304" y="694" width="18" height="17" rx="3" fill="#f7f2da"/><rect x="325" y="694" width="18" height="17" rx="3" fill="#f7f2da"/><rect x="927" y="654" width="18" height="17" rx="3" fill="#dcdde1"/><rect x="948" y="654" width="18" height="17" rx="3" fill="#dcdde1"/><rect x="969" y="654" width="18" height="17" rx="3" fill="#dcdde1"/><rect x="927" y="674" width="18" height="17" rx="3" fill="#f3dfe2"/><rect x="948" y="674" width="18" height="17" rx="3" fill="#f3dfe2"/><rect x="969" y="674" width="18" height="17" rx="3" fill="#f3dfe2"/><rect x="927" y="694" width="18" height="17" rx="3" fill="#f7f2da"/><rect x="948" y="694" width="18" height="17" rx="3" fill="#f7f2da"/><rect x="969" y="694" width="18" height="17" rx="3" fill="#f7f2da"/></g>
<path d="M417.5 120.2L417.5 426M442.3 132.6L442.3 438.4M467.2 145L467.2 450.8M492 157.4L492 463.2M516.8 169.8L516.8 475.6M541.6 182.2L541.6 488M566.5 194.6L566.5 500.4M591.3 207L591.3 512.8M616.1 219.4L616.1 525.2M641 231.8L641 537.6M665.8 244.2L665.8 550M690.6 256.6L690.6 562.4M715.5 269L715.5 574.8M740.3 281.4L740.3 587.2M765.1 293.8L765.1 599.6M790 306.2L790 612M814.8 318.6L814.8 624.4M839.6 331L839.6 636.8M864.4 343.4L864.4 649.2M889.3 355.8L889.3 661.6M914.1 368.2L914.1 674" stroke="#1b1f22" stroke-width="3.4" fill="none" stroke-linecap="butt"/><path d="M417.5 120.2L417.5 426M442.3 132.6L442.3 438.4M467.2 145L467.2 450.8M492 157.4L492 463.2M516.8 169.8L516.8 475.6M541.6 182.2L541.6 488M566.5 194.6L566.5 500.4M591.3 207L591.3 512.8M616.1 219.4L616.1 525.2M641 231.8L641 537.6M665.8 244.2L665.8 550M690.6 256.6L690.6 562.4M715.5 269L715.5 574.8M740.3 281.4L740.3 587.2M765.1 293.8L765.1 599.6M790 306.2L790 612M814.8 318.6L814.8 624.4M839.6 331L839.6 636.8M864.4 343.4L864.4 649.2M889.3 355.8L889.3 661.6M914.1 368.2L914.1 674" stroke="#4e5a62" stroke-width="1.1" fill="none" stroke-linecap="butt"/><path d="M416.8 120.7L914.8 369.5M416.8 151.1L914.8 399.9M416.8 181.5L914.8 430.3M416.8 211.9L914.8 460.7M416.8 242.3L914.8 491.1M416.8 272.7L914.8 521.5M416.8 303.1L914.8 551.9M416.8 333.5L914.8 582.3M416.8 363.9L914.8 612.7M416.8 394.3L914.8 643.1M416.8 424.7L914.8 673.5" stroke="#1b1f22" stroke-width="3.4" fill="none" stroke-linecap="butt"/><path d="M416.8 120.7L914.8 369.5M416.8 151.1L914.8 399.9M416.8 181.5L914.8 430.3M416.8 211.9L914.8 460.7M416.8 242.3L914.8 491.1M416.8 272.7L914.8 521.5M416.8 303.1L914.8 551.9M416.8 333.5L914.8 582.3M416.8 363.9L914.8 612.7M416.8 394.3L914.8 643.1M416.8 424.7L914.8 673.5" stroke="#4e5a62" stroke-width="1.1" fill="none" stroke-linecap="butt"/><path d="M260.7 502.9L418.3 424.7M285.6 515.3L443.1 437.1M310.4 527.7L467.9 449.5M335.2 540.1L492.8 461.9M360 552.5L517.6 474.3M384.9 564.9L542.4 486.7M409.7 577.3L567.3 499.1M434.5 589.7L592.1 511.5M459.4 602.1L616.9 523.9M484.2 614.5L641.8 536.3M509 626.9L666.6 548.7M533.9 639.3L691.4 561.1M558.7 651.7L716.2 573.5M583.5 664.1L741.1 585.9M608.3 676.5L765.9 598.3M633.2 688.9L790.7 610.7M658 701.3L815.6 623.1M682.8 713.7L840.4 635.5M707.7 726.1L865.2 647.9M732.5 738.5L890 660.3M757.3 750.9L914.9 672.7" stroke="#1b1f22" stroke-width="3.4" fill="none" stroke-linecap="butt"/><path d="M260.7 502.9L418.3 424.7M285.6 515.3L443.1 437.1M310.4 527.7L467.9 449.5M335.2 540.1L492.8 461.9M360 552.5L517.6 474.3M384.9 564.9L542.4 486.7M409.7 577.3L567.3 499.1M434.5 589.7L592.1 511.5M459.4 602.1L616.9 523.9M484.2 614.5L641.8 536.3M509 626.9L666.6 548.7M533.9 639.3L691.4 561.1M558.7 651.7L716.2 573.5M583.5 664.1L741.1 585.9M608.3 676.5L765.9 598.3M633.2 688.9L790.7 610.7M658 701.3L815.6 623.1M682.8 713.7L840.4 635.5M707.7 726.1L865.2 647.9M732.5 738.5L890 660.3M757.3 750.9L914.9 672.7" stroke="#4e5a62" stroke-width="1.1" fill="none" stroke-linecap="butt"/><path d="M260.8 502.1L758.8 750.9M286.8 489.2L784.8 738M312.8 476.3L810.8 725.1M338.8 463.4L836.8 712.2M364.8 450.5L862.8 699.3M390.8 437.6L888.8 686.4M416.8 424.7L914.8 673.5" stroke="#1b1f22" stroke-width="3.4" fill="none" stroke-linecap="butt"/><path d="M260.8 502.1L758.8 750.9M286.8 489.2L784.8 738M312.8 476.3L810.8 725.1M338.8 463.4L836.8 712.2M364.8 450.5L862.8 699.3M390.8 437.6L888.8 686.4M416.8 424.7L914.8 673.5" stroke="#4e5a62" stroke-width="1.1" fill="none" stroke-linecap="butt"/><path d="M758.1 445.6L758.1 751.4M784.1 432.7L784.1 738.5M810.1 419.8L810.1 725.6M836.1 406.9L836.1 712.7M862.1 394L862.1 699.8M888.1 381.1L888.1 686.9M914.1 368.2L914.1 674" stroke="#1b1f22" stroke-width="3.4" fill="none" stroke-linecap="butt"/><path d="M758.1 445.6L758.1 751.4M784.1 432.7L784.1 738.5M810.1 419.8L810.1 725.6M836.1 406.9L836.1 712.7M862.1 394L862.1 699.8M888.1 381.1L888.1 686.9M914.1 368.2L914.1 674" stroke="#4e5a62" stroke-width="1.1" fill="none" stroke-linecap="butt"/><path d="M757.3 446.9L914.9 368.7M757.3 477.3L914.9 399.1M757.3 507.7L914.9 429.5M757.3 538.1L914.9 459.9M757.3 568.5L914.9 490.3M757.3 598.9L914.9 520.7M757.3 629.3L914.9 551.1M757.3 659.7L914.9 581.5M757.3 690.1L914.9 611.9M757.3 720.5L914.9 642.3M757.3 750.9L914.9 672.7" stroke="#1b1f22" stroke-width="3.4" fill="none" stroke-linecap="butt"/><path d="M757.3 446.9L914.9 368.7M757.3 477.3L914.9 399.1M757.3 507.7L914.9 429.5M757.3 538.1L914.9 459.9M757.3 568.5L914.9 490.3M757.3 598.9L914.9 520.7M757.3 629.3L914.9 551.1M757.3 659.7L914.9 581.5M757.3 690.1L914.9 611.9M757.3 720.5L914.9 642.3M757.3 750.9L914.9 672.7" stroke="#4e5a62" stroke-width="1.1" fill="none" stroke-linecap="butt"/><path d="M261.5 197.6L261.5 503.4M286.3 210L286.3 515.8M311.2 222.4L311.2 528.2M336 234.8L336 540.6M360.8 247.2L360.8 553M385.6 259.6L385.6 565.4M410.5 272L410.5 577.8M435.3 284.4L435.3 590.2M460.1 296.8L460.1 602.6M485 309.2L485 615M509.8 321.6L509.8 627.4M534.6 334L534.6 639.8M559.5 346.4L559.5 652.2M584.3 358.8L584.3 664.6M609.1 371.2L609.1 677M634 383.6L634 689.4M658.8 396L658.8 701.8M683.6 408.4L683.6 714.2M708.4 420.8L708.4 726.6M733.3 433.2L733.3 739M758.1 445.6L758.1 751.4" stroke="#1b1f22" stroke-width="3.4" fill="none" stroke-linecap="butt"/><path d="M261.5 197.6L261.5 503.4M286.3 210L286.3 515.8M311.2 222.4L311.2 528.2M336 234.8L336 540.6M360.8 247.2L360.8 553M385.6 259.6L385.6 565.4M410.5 272L410.5 577.8M435.3 284.4L435.3 590.2M460.1 296.8L460.1 602.6M485 309.2L485 615M509.8 321.6L509.8 627.4M534.6 334L534.6 639.8M559.5 346.4L559.5 652.2M584.3 358.8L584.3 664.6M609.1 371.2L609.1 677M634 383.6L634 689.4M658.8 396L658.8 701.8M683.6 408.4L683.6 714.2M708.4 420.8L708.4 726.6M733.3 433.2L733.3 739M758.1 445.6L758.1 751.4" stroke="#4e5a62" stroke-width="1.1" fill="none" stroke-linecap="butt"/><path d="M260.8 198.1L758.8 446.9M260.8 228.5L758.8 477.3M260.8 258.9L758.8 507.7M260.8 289.3L758.8 538.1M260.8 319.7L758.8 568.5M260.8 350.1L758.8 598.9M260.8 380.5L758.8 629.3M260.8 410.9L758.8 659.7M260.8 441.3L758.8 690.1M260.8 471.7L758.8 720.5M260.8 502.1L758.8 750.9" stroke="#1b1f22" stroke-width="3.4" fill="none" stroke-linecap="butt"/><path d="M260.8 198.1L758.8 446.9M260.8 228.5L758.8 477.3M260.8 258.9L758.8 507.7M260.8 289.3L758.8 538.1M260.8 319.7L758.8 568.5M260.8 350.1L758.8 598.9M260.8 380.5L758.8 629.3M260.8 410.9L758.8 659.7M260.8 441.3L758.8 690.1M260.8 471.7L758.8 720.5M260.8 502.1L758.8 750.9" stroke="#4e5a62" stroke-width="1.1" fill="none" stroke-linecap="butt"/><path d="M911.1 421.1 C911.1 414.1 914.1 412.1 917.1 413.1 L922.1 420.1 C919.1 423.1 913.1 423.1 911.1 421.1Z" fill="none" stroke="#151515" stroke-width="2.6" stroke-linejoin="round"/><path d="M911.1 481.9 C911.1 474.9 914.1 472.9 917.1 473.9 L922.1 480.9 C919.1 483.9 913.1 483.9 911.1 481.9Z" fill="none" stroke="#151515" stroke-width="2.6" stroke-linejoin="round"/><path d="M911.1 542.7 C911.1 535.7 914.1 533.7 917.1 534.7 L922.1 541.7 C919.1 544.7 913.1 544.7 911.1 542.7Z" fill="none" stroke="#151515" stroke-width="2.6" stroke-linejoin="round"/><path d="M911.1 603.5 C911.1 596.5 914.1 594.5 917.1 595.5 L922.1 602.5 C919.1 605.5 913.1 605.5 911.1 603.5Z" fill="none" stroke="#151515" stroke-width="2.6" stroke-linejoin="round"/><path d="M911.1 664.3 C911.1 657.3 914.1 655.3 917.1 656.3 L922.1 663.3 C919.1 666.3 913.1 666.3 911.1 664.3Z" fill="none" stroke="#151515" stroke-width="2.6" stroke-linejoin="round"/><path d="M751.1 499.5 C751.1 492.5 754.1 490.5 757.1 491.5 L762.1 498.5 C759.1 501.5 753.1 501.5 751.1 499.5Z" fill="none" stroke="#151515" stroke-width="2.6" stroke-linejoin="round"/><path d="M751.1 560.3 C751.1 553.3 754.1 551.3 757.1 552.3 L762.1 559.3 C759.1 562.3 753.1 562.3 751.1 560.3Z" fill="none" stroke="#151515" stroke-width="2.6" stroke-linejoin="round"/><path d="M751.1 621.1 C751.1 614.1 754.1 612.1 757.1 613.1 L762.1 620.1 C759.1 623.1 753.1 623.1 751.1 621.1Z" fill="none" stroke="#151515" stroke-width="2.6" stroke-linejoin="round"/><path d="M751.1 681.9 C751.1 674.9 754.1 672.9 757.1 673.9 L762.1 680.9 C759.1 683.9 753.1 683.9 751.1 681.9Z" fill="none" stroke="#151515" stroke-width="2.6" stroke-linejoin="round"/><path d="M751.1 742.7 C751.1 735.7 754.1 733.7 757.1 734.7 L762.1 741.7 C759.1 744.7 753.1 744.7 751.1 742.7Z" fill="none" stroke="#151515" stroke-width="2.6" stroke-linejoin="round"/><path d="M290.5 516.5 C290.5 509.5 293.5 507.5 296.5 508.5 L301.5 515.5 C298.5 518.5 292.5 518.5 290.5 516.5Z" fill="none" stroke="#151515" stroke-width="2.6" stroke-linejoin="round"/><path d="M340.2 541.3 C340.2 534.3 343.2 532.3 346.2 533.3 L351.2 540.3 C348.2 543.3 342.2 543.3 340.2 541.3Z" fill="none" stroke="#151515" stroke-width="2.6" stroke-linejoin="round"/><path d="M389.8 566.1 C389.8 559.1 392.8 557.1 395.8 558.1 L400.8 565.1 C397.8 568.1 391.8 568.1 389.8 566.1Z" fill="none" stroke="#151515" stroke-width="2.6" stroke-linejoin="round"/><path d="M439.5 590.9 C439.5 583.9 442.5 581.9 445.5 582.9 L450.5 589.9 C447.5 592.9 441.5 592.9 439.5 590.9Z" fill="none" stroke="#151515" stroke-width="2.6" stroke-linejoin="round"/><path d="M489.1 615.7 C489.1 608.7 492.1 606.7 495.1 607.7 L500.1 614.7 C497.1 617.7 491.1 617.7 489.1 615.7Z" fill="none" stroke="#151515" stroke-width="2.6" stroke-linejoin="round"/><path d="M538.8 640.5 C538.8 633.5 541.8 631.5 544.8 632.5 L549.8 639.5 C546.8 642.5 540.8 642.5 538.8 640.5Z" fill="none" stroke="#151515" stroke-width="2.6" stroke-linejoin="round"/><path d="M588.5 665.3 C588.5 658.3 591.5 656.3 594.5 657.3 L599.5 664.3 C596.5 667.3 590.5 667.3 588.5 665.3Z" fill="none" stroke="#151515" stroke-width="2.6" stroke-linejoin="round"/><path d="M638.1 690.1 C638.1 683.1 641.1 681.1 644.1 682.1 L649.1 689.1 C646.1 692.1 640.1 692.1 638.1 690.1Z" fill="none" stroke="#151515" stroke-width="2.6" stroke-linejoin="round"/><path d="M687.8 714.9 C687.8 707.9 690.8 705.9 693.8 706.9 L698.8 713.9 C695.8 716.9 689.8 716.9 687.8 714.9Z" fill="none" stroke="#151515" stroke-width="2.6" stroke-linejoin="round"/><path d="M737.4 739.7 C737.4 732.7 740.4 730.7 743.4 731.7 L748.4 738.7 C745.4 741.7 739.4 741.7 737.4 739.7Z" fill="none" stroke="#151515" stroke-width="2.6" stroke-linejoin="round"/><path d="M442.5 441.1 C442.5 434.1 445.5 432.1 448.5 433.1 L453.5 440.1 C450.5 443.1 444.5 443.1 442.5 441.1Z" fill="none" stroke="#151515" stroke-width="2.6" stroke-linejoin="round"/><path d="M492.2 465.9 C492.2 458.9 495.2 456.9 498.2 457.9 L503.2 464.9 C500.2 467.9 494.2 467.9 492.2 465.9Z" fill="none" stroke="#151515" stroke-width="2.6" stroke-linejoin="round"/><path d="M541.8 490.7 C541.8 483.7 544.8 481.7 547.8 482.7 L552.8 489.7 C549.8 492.7 543.8 492.7 541.8 490.7Z" fill="none" stroke="#151515" stroke-width="2.6" stroke-linejoin="round"/><path d="M591.5 515.5 C591.5 508.5 594.5 506.5 597.5 507.5 L602.5 514.5 C599.5 517.5 593.5 517.5 591.5 515.5Z" fill="none" stroke="#151515" stroke-width="2.6" stroke-linejoin="round"/><path d="M641.1 540.3 C641.1 533.3 644.1 531.3 647.1 532.3 L652.1 539.3 C649.1 542.3 643.1 542.3 641.1 540.3Z" fill="none" stroke="#151515" stroke-width="2.6" stroke-linejoin="round"/><path d="M690.8 565.1 C690.8 558.1 693.8 556.1 696.8 557.1 L701.8 564.1 C698.8 567.1 692.8 567.1 690.8 565.1Z" fill="none" stroke="#151515" stroke-width="2.6" stroke-linejoin="round"/><path d="M740.5 589.9 C740.5 582.9 743.5 580.9 746.5 581.9 L751.5 588.9 C748.5 591.9 742.5 591.9 740.5 589.9Z" fill="none" stroke="#151515" stroke-width="2.6" stroke-linejoin="round"/><path d="M790.1 614.7 C790.1 607.7 793.1 605.7 796.1 606.7 L801.1 613.7 C798.1 616.7 792.1 616.7 790.1 614.7Z" fill="none" stroke="#151515" stroke-width="2.6" stroke-linejoin="round"/><path d="M839.8 639.5 C839.8 632.5 842.8 630.5 845.8 631.5 L850.8 638.5 C847.8 641.5 841.8 641.5 839.8 639.5Z" fill="none" stroke="#151515" stroke-width="2.6" stroke-linejoin="round"/><path d="M889.4 664.3 C889.4 657.3 892.4 655.3 895.4 656.3 L900.4 663.3 C897.4 666.3 891.4 666.3 889.4 664.3Z" fill="none" stroke="#151515" stroke-width="2.6" stroke-linejoin="round"/><path d="M783.1 439.5 C783.1 432.5 786.1 430.5 789.1 431.5 L794.1 438.5 C791.1 441.5 785.1 441.5 783.1 439.5Z" fill="none" stroke="#151515" stroke-width="2.6" stroke-linejoin="round"/><path d="M835.1 413.7 C835.1 406.7 838.1 404.7 841.1 405.7 L846.1 412.7 C843.1 415.7 837.1 415.7 835.1 413.7Z" fill="none" stroke="#151515" stroke-width="2.6" stroke-linejoin="round"/><path d="M887.1 387.9 C887.1 380.9 890.1 378.9 893.1 379.9 L898.1 386.9 C895.1 389.9 889.1 389.9 887.1 387.9Z" fill="none" stroke="#151515" stroke-width="2.6" stroke-linejoin="round"/><path d="M948.8 435.1L931.4 425.9L932.6 423.7L921.2 423.9L927.5 433.4L928.6 431.2L946 440.5Z" fill="#b3241f" stroke="#3a0806" stroke-width="1.2" stroke-linejoin="round"/><path d="M796.3 511.9L780.7 503.5L781.9 501.3L770.5 501.4L776.7 511L777.9 508.8L793.5 517.1Z" fill="#b3241f" stroke="#3a0806" stroke-width="1.2" stroke-linejoin="round"/><path d="M948.8 495.2L931.4 486L932.6 483.8L921.2 484L927.5 493.5L928.6 491.3L946 500.6Z" fill="#b3241f" stroke="#3a0806" stroke-width="1.2" stroke-linejoin="round"/><path d="M796.3 572L780.7 563.6L781.9 561.4L770.5 561.5L776.7 571.1L777.9 568.9L793.5 577.2Z" fill="#b3241f" stroke="#3a0806" stroke-width="1.2" stroke-linejoin="round"/><path d="M948.8 555.3L931.4 546.1L932.6 543.9L921.2 544.1L927.5 553.6L928.6 551.4L946 560.7Z" fill="#b3241f" stroke="#3a0806" stroke-width="1.2" stroke-linejoin="round"/><path d="M796.3 632.1L780.7 623.7L781.9 621.5L770.5 621.6L776.7 631.2L777.9 629L793.5 637.3Z" fill="#b3241f" stroke="#3a0806" stroke-width="1.2" stroke-linejoin="round"/><path d="M948.8 615.4L931.4 606.2L932.6 604L921.2 604.2L927.5 613.7L928.6 611.5L946 620.8Z" fill="#b3241f" stroke="#3a0806" stroke-width="1.2" stroke-linejoin="round"/><path d="M796.3 692.2L780.7 683.8L781.9 681.6L770.5 681.7L776.7 691.3L777.9 689.1L793.5 697.4Z" fill="#b3241f" stroke="#3a0806" stroke-width="1.2" stroke-linejoin="round"/><path d="M948.8 675.5L931.4 666.3L932.6 664.1L921.2 664.3L927.5 673.8L928.6 671.6L946 680.9Z" fill="#b3241f" stroke="#3a0806" stroke-width="1.2" stroke-linejoin="round"/><path d="M796.3 752.3L780.7 743.9L781.9 741.7L770.5 741.8L776.7 751.4L777.9 749.2L793.5 757.5Z" fill="#b3241f" stroke="#3a0806" stroke-width="1.2" stroke-linejoin="round"/>
<rect x="41.6" y="41.6" width="1157" height="794" fill="none" stroke="#111" stroke-width="1.7"/><rect x="1086.6" y="814.6" width="112" height="20.9" fill="none" stroke="#111" stroke-width="1.7"/><text x="1089" y="822.5" font-family="Liberation Sans" font-size="6" fill="#333">Seite</text><text x="1146" y="829.8" text-anchor="middle" font-family="Liberation Sans" font-size="13" fill="#111">5 von 8</text><text x="1191" y="805.5" text-anchor="end" font-family="Liberation Sans" font-size="70" fill="#000">5</text>
</g>
<g transform="translate(1240 1753.5)">
<g><ellipse cx="641" cy="364" rx="442" ry="212" fill="#ecefea" filter="url(#soft)"/><ellipse cx="641" cy="364" rx="425" ry="197" fill="none" stroke="#f3f6f2" stroke-width="5" filter="url(#soft)"/><circle cx="256" cy="352" r="20" fill="#f3f5f2"/><circle cx="1013" cy="358" r="19" fill="#f3f5f2"/><text x="344" y="404" font-family="Liberation Sans" font-size="140" fill="#f2f5f1" textLength="588" lengthAdjust="spacingAndGlyphs">GABIONA</text><circle cx="953" cy="325" r="20" fill="none" stroke="#f2f5f1" stroke-width="3.5"/><text x="953" y="337" text-anchor="middle" font-family="Liberation Sans" font-weight="bold" font-size="30" fill="#f2f5f1">R</text><text x="636" y="666" text-anchor="middle" font-family="Liberation Sans" font-size="58" fill="#e3e3e3" textLength="396" lengthAdjust="spacing">QUALITÄT</text><rect x="363" y="681" width="546" height="2.5" fill="#e8e8e8"/><text x="636" y="730" text-anchor="middle" font-family="Liberation Sans" font-weight="bold" font-size="36" fill="#e5e5e5" textLength="241" lengthAdjust="spacing">SEIT 1954</text><rect x="283" y="654" width="18" height="17" rx="3" fill="#dcdde1"/><rect x="304" y="654" width="18" height="17" rx="3" fill="#dcdde1"/><rect x="325" y="654" width="18" height="17" rx="3" fill="#dcdde1"/><rect x="283" y="674" width="18" height="17" rx="3" fill="#f3dfe2"/><rect x="304" y="674" width="18" height="17" rx="3" fill="#f3dfe2"/><rect x="325" y="674" width="18" height="17" rx="3" fill="#f3dfe2"/><rect x="283" y="694" width="18" height="17" rx="3" fill="#f7f2da"/><rect x="304" y="694" width="18" height="17" rx="3" fill="#f7f2da"/><rect x="325" y="694" width="18" height="17" rx="3" fill="#f7f2da"/><rect x="927" y="654" width="18" height="17" rx="3" fill="#dcdde1"/><rect x="948" y="654" width="18" height="17" rx="3" fill="#dcdde1"/><rect x="969" y="654" width="18" height="17" rx="3" fill="#dcdde1"/><rect x="927" y="674" width="18" height="17" rx="3" fill="#f3dfe2"/><rect x="948" y="674" width="18" height="17" rx="3" fill="#f3dfe2"/><rect x="969" y="674" width="18" height="17" rx="3" fill="#f3dfe2"/><rect x="927" y="694" width="18" height="17" rx="3" fill="#f7f2da"/><rect x="948" y="694" width="18" height="17" rx="3" fill="#f7f2da"/><rect x="969" y="694" width="18" height="17" rx="3" fill="#f7f2da"/></g>
<path d="M465.6 118.4L465.6 424.2M490.4 130.8L490.4 436.6M515.3 143.2L515.3 449M540.1 155.6L540.1 461.4M564.9 168L564.9 473.8M589.8 180.4L589.8 486.2M614.6 192.8L614.6 498.6M639.4 205.2L639.4 511M664.2 217.6L664.2 523.4M689.1 230L689.1 535.8M713.9 242.4L713.9 548.2M738.7 254.8L738.7 560.6M763.6 267.2L763.6 573M788.4 279.6L788.4 585.4M813.2 292L813.2 597.8M838 304.4L838 610.2M862.9 316.8L862.9 622.6M887.7 329.2L887.7 635M912.5 341.6L912.5 647.4M937.4 354L937.4 659.8M962.2 366.4L962.2 672.2" stroke="#1b1f22" stroke-width="3.4" fill="none" stroke-linecap="butt"/><path d="M465.6 118.4L465.6 424.2M490.4 130.8L490.4 436.6M515.3 143.2L515.3 449M540.1 155.6L540.1 461.4M564.9 168L564.9 473.8M589.8 180.4L589.8 486.2M614.6 192.8L614.6 498.6M639.4 205.2L639.4 511M664.2 217.6L664.2 523.4M689.1 230L689.1 535.8M713.9 242.4L713.9 548.2M738.7 254.8L738.7 560.6M763.6 267.2L763.6 573M788.4 279.6L788.4 585.4M813.2 292L813.2 597.8M838 304.4L838 610.2M862.9 316.8L862.9 622.6M887.7 329.2L887.7 635M912.5 341.6L912.5 647.4M937.4 354L937.4 659.8M962.2 366.4L962.2 672.2" stroke="#4e5a62" stroke-width="1.1" fill="none" stroke-linecap="butt"/><path d="M464.9 118.9L962.9 367.7M464.9 149.3L962.9 398.1M464.9 179.7L962.9 428.5M464.9 210.1L962.9 458.9M464.9 240.5L962.9 489.3M464.9 270.9L962.9 519.7M464.9 301.3L962.9 550.1M464.9 331.7L962.9 580.5M464.9 362.1L962.9 610.9M464.9 392.5L962.9 641.3M464.9 422.9L962.9 671.7" stroke="#1b1f22" stroke-width="3.4" fill="none" stroke-linecap="butt"/><path d="M464.9 118.9L962.9 367.7M464.9 149.3L962.9 398.1M464.9 179.7L962.9 428.5M464.9 210.1L962.9 458.9M464.9 240.5L962.9 489.3M464.9 270.9L962.9 519.7M464.9 301.3L962.9 550.1M464.9 331.7L962.9 580.5M464.9 362.1L962.9 610.9M464.9 392.5L962.9 641.3M464.9 422.9L962.9 671.7" stroke="#4e5a62" stroke-width="1.1" fill="none" stroke-linecap="butt"/><path d="M308.8 501.1L466.4 422.9M333.7 513.5L491.2 435.3M358.5 525.9L516 447.7M383.3 538.3L540.9 460.1M408.1 550.7L565.7 472.5M433 563.1L590.5 484.9M457.8 575.5L615.4 497.3M482.6 587.9L640.2 509.7M507.5 600.3L665 522.1M532.3 612.7L689.8 534.5M557.1 625.1L714.7 546.9M582 637.5L739.5 559.3M606.8 649.9L764.3 571.7M631.6 662.3L789.2 584.1M656.4 674.7L814 596.5M681.3 687.1L838.8 608.9M706.1 699.5L863.7 621.3M730.9 711.9L888.5 633.7M755.8 724.3L913.3 646.1M780.6 736.7L938.1 658.5M805.4 749.1L963 670.9" stroke="#1b1f22" stroke-width="3.4" fill="none" stroke-linecap="butt"/><path d="M308.8 501.1L466.4 422.9M333.7 513.5L491.2 435.3M358.5 525.9L516 447.7M383.3 538.3L540.9 460.1M408.1 550.7L565.7 472.5M433 563.1L590.5 484.9M457.8 575.5L615.4 497.3M482.6 587.9L640.2 509.7M507.5 600.3L665 522.1M532.3 612.7L689.8 534.5M557.1 625.1L714.7 546.9M582 637.5L739.5 559.3M606.8 649.9L764.3 571.7M631.6 662.3L789.2 584.1M656.4 674.7L814 596.5M681.3 687.1L838.8 608.9M706.1 699.5L863.7 621.3M730.9 711.9L888.5 633.7M755.8 724.3L913.3 646.1M780.6 736.7L938.1 658.5M805.4 749.1L963 670.9" stroke="#4e5a62" stroke-width="1.1" fill="none" stroke-linecap="butt"/><path d="M308.9 500.3L806.9 749.1M334.9 487.4L832.9 736.2M360.9 474.5L858.9 723.3M386.9 461.6L884.9 710.4M412.9 448.7L910.9 697.5M438.9 435.8L936.9 684.6M464.9 422.9L962.9 671.7" stroke="#1b1f22" stroke-width="3.4" fill="none" stroke-linecap="butt"/><path d="M308.9 500.3L806.9 749.1M334.9 487.4L832.9 736.2M360.9 474.5L858.9 723.3M386.9 461.6L884.9 710.4M412.9 448.7L910.9 697.5M438.9 435.8L936.9 684.6M464.9 422.9L962.9 671.7" stroke="#4e5a62" stroke-width="1.1" fill="none" stroke-linecap="butt"/><path d="M806.2 443.8L806.2 749.6M832.2 430.9L832.2 736.7M858.2 418L858.2 723.8M884.2 405.1L884.2 710.9M910.2 392.2L910.2 698M936.2 379.3L936.2 685.1M962.2 366.4L962.2 672.2" stroke="#1b1f22" stroke-width="3.4" fill="none" stroke-linecap="butt"/><path d="M806.2 443.8L806.2 749.6M832.2 430.9L832.2 736.7M858.2 418L858.2 723.8M884.2 405.1L884.2 710.9M910.2 392.2L910.2 698M936.2 379.3L936.2 685.1M962.2 366.4L962.2 672.2" stroke="#4e5a62" stroke-width="1.1" fill="none" stroke-linecap="butt"/><path d="M805.4 445.1L963 366.9M805.4 475.5L963 397.3M805.4 505.9L963 427.7M805.4 536.3L963 458.1M805.4 566.7L963 488.5M805.4 597.1L963 518.9M805.4 627.5L963 549.3M805.4 657.9L963 579.7M805.4 688.3L963 610.1M805.4 718.7L963 640.5M805.4 749.1L963 670.9" stroke="#1b1f22" stroke-width="3.4" fill="none" stroke-linecap="butt"/><path d="M805.4 445.1L963 366.9M805.4 475.5L963 397.3M805.4 505.9L963 427.7M805.4 536.3L963 458.1M805.4 566.7L963 488.5M805.4 597.1L963 518.9M805.4 627.5L963 549.3M805.4 657.9L963 579.7M805.4 688.3L963 610.1M805.4 718.7L963 640.5M805.4 749.1L963 670.9" stroke="#4e5a62" stroke-width="1.1" fill="none" stroke-linecap="butt"/><path d="M309.6 195.8L309.6 501.6M334.4 208.2L334.4 514M359.3 220.6L359.3 526.4M384.1 233L384.1 538.8M408.9 245.4L408.9 551.2M433.8 257.8L433.8 563.6M458.6 270.2L458.6 576M483.4 282.6L483.4 588.4M508.2 295L508.2 600.8M533.1 307.4L533.1 613.2M557.9 319.8L557.9 625.6M582.7 332.2L582.7 638M607.6 344.6L607.6 650.4M632.4 357L632.4 662.8M657.2 369.4L657.2 675.2M682 381.8L682 687.6M706.9 394.2L706.9 700M731.7 406.6L731.7 712.4M756.5 419L756.5 724.8M781.4 431.4L781.4 737.2M806.2 443.8L806.2 749.6" stroke="#1b1f22" stroke-width="3.4" fill="none" stroke-linecap="butt"/><path d="M309.6 195.8L309.6 501.6M334.4 208.2L334.4 514M359.3 220.6L359.3 526.4M384.1 233L384.1 538.8M408.9 245.4L408.9 551.2M433.8 257.8L433.8 563.6M458.6 270.2L458.6 576M483.4 282.6L483.4 588.4M508.2 295L508.2 600.8M533.1 307.4L533.1 613.2M557.9 319.8L557.9 625.6M582.7 332.2L582.7 638M607.6 344.6L607.6 650.4M632.4 357L632.4 662.8M657.2 369.4L657.2 675.2M682 381.8L682 687.6M706.9 394.2L706.9 700M731.7 406.6L731.7 712.4M756.5 419L756.5 724.8M781.4 431.4L781.4 737.2M806.2 443.8L806.2 749.6" stroke="#4e5a62" stroke-width="1.1" fill="none" stroke-linecap="butt"/><path d="M308.9 196.3L806.9 445.1M308.9 226.7L806.9 475.5M308.9 257.1L806.9 505.9M308.9 287.5L806.9 536.3M308.9 317.9L806.9 566.7M308.9 348.3L806.9 597.1M308.9 378.7L806.9 627.5M308.9 409.1L806.9 657.9M308.9 439.5L806.9 688.3M308.9 469.9L806.9 718.7M308.9 500.3L806.9 749.1" stroke="#1b1f22" stroke-width="3.4" fill="none" stroke-linecap="butt"/><path d="M308.9 196.3L806.9 445.1M308.9 226.7L806.9 475.5M308.9 257.1L806.9 505.9M308.9 287.5L806.9 536.3M308.9 317.9L806.9 566.7M308.9 348.3L806.9 597.1M308.9 378.7L806.9 627.5M308.9 409.1L806.9 657.9M308.9 439.5L806.9 688.3M308.9 469.9L806.9 718.7M308.9 500.3L806.9 749.1" stroke="#4e5a62" stroke-width="1.1" fill="none" stroke-linecap="butt"/><path d="M959.2 419.3 C959.2 412.3 962.2 410.3 965.2 411.3 L970.2 418.3 C967.2 421.3 961.2 421.3 959.2 419.3Z" fill="none" stroke="#151515" stroke-width="2.6" stroke-linejoin="round"/><path d="M959.2 480.1 C959.2 473.1 962.2 471.1 965.2 472.1 L970.2 479.1 C967.2 482.1 961.2 482.1 959.2 480.1Z" fill="none" stroke="#151515" stroke-width="2.6" stroke-linejoin="round"/><path d="M959.2 540.9 C959.2 533.9 962.2 531.9 965.2 532.9 L970.2 539.9 C967.2 542.9 961.2 542.9 959.2 540.9Z" fill="none" stroke="#151515" stroke-width="2.6" stroke-linejoin="round"/><path d="M959.2 601.7 C959.2 594.7 962.2 592.7 965.2 593.7 L970.2 600.7 C967.2 603.7 961.2 603.7 959.2 601.7Z" fill="none" stroke="#151515" stroke-width="2.6" stroke-linejoin="round"/><path d="M959.2 662.5 C959.2 655.5 962.2 653.5 965.2 654.5 L970.2 661.5 C967.2 664.5 961.2 664.5 959.2 662.5Z" fill="none" stroke="#151515" stroke-width="2.6" stroke-linejoin="round"/><path d="M799.2 497.7 C799.2 490.7 802.2 488.7 805.2 489.7 L810.2 496.7 C807.2 499.7 801.2 499.7 799.2 497.7Z" fill="none" stroke="#151515" stroke-width="2.6" stroke-linejoin="round"/><path d="M799.2 558.5 C799.2 551.5 802.2 549.5 805.2 550.5 L810.2 557.5 C807.2 560.5 801.2 560.5 799.2 558.5Z" fill="none" stroke="#151515" stroke-width="2.6" stroke-linejoin="round"/><path d="M799.2 619.3 C799.2 612.3 802.2 610.3 805.2 611.3 L810.2 618.3 C807.2 621.3 801.2 621.3 799.2 619.3Z" fill="none" stroke="#151515" stroke-width="2.6" stroke-linejoin="round"/><path d="M799.2 680.1 C799.2 673.1 802.2 671.1 805.2 672.1 L810.2 679.1 C807.2 682.1 801.2 682.1 799.2 680.1Z" fill="none" stroke="#151515" stroke-width="2.6" stroke-linejoin="round"/><path d="M799.2 740.9 C799.2 733.9 802.2 731.9 805.2 732.9 L810.2 739.9 C807.2 742.9 801.2 742.9 799.2 740.9Z" fill="none" stroke="#151515" stroke-width="2.6" stroke-linejoin="round"/><path d="M338.6 514.7 C338.6 507.7 341.6 505.7 344.6 506.7 L349.6 513.7 C346.6 516.7 340.6 516.7 338.6 514.7Z" fill="none" stroke="#151515" stroke-width="2.6" stroke-linejoin="round"/><path d="M388.3 539.5 C388.3 532.5 391.3 530.5 394.3 531.5 L399.3 538.5 C396.3 541.5 390.3 541.5 388.3 539.5Z" fill="none" stroke="#151515" stroke-width="2.6" stroke-linejoin="round"/><path d="M437.9 564.3 C437.9 557.3 440.9 555.3 443.9 556.3 L448.9 563.3 C445.9 566.3 439.9 566.3 437.9 564.3Z" fill="none" stroke="#151515" stroke-width="2.6" stroke-linejoin="round"/><path d="M487.6 589.1 C487.6 582.1 490.6 580.1 493.6 581.1 L498.6 588.1 C495.6 591.1 489.6 591.1 487.6 589.1Z" fill="none" stroke="#151515" stroke-width="2.6" stroke-linejoin="round"/><path d="M537.2 613.9 C537.2 606.9 540.2 604.9 543.2 605.9 L548.2 612.9 C545.2 615.9 539.2 615.9 537.2 613.9Z" fill="none" stroke="#151515" stroke-width="2.6" stroke-linejoin="round"/><path d="M586.9 638.7 C586.9 631.7 589.9 629.7 592.9 630.7 L597.9 637.7 C594.9 640.7 588.9 640.7 586.9 638.7Z" fill="none" stroke="#151515" stroke-width="2.6" stroke-linejoin="round"/><path d="M636.6 663.5 C636.6 656.5 639.6 654.5 642.6 655.5 L647.6 662.5 C644.6 665.5 638.6 665.5 636.6 663.5Z" fill="none" stroke="#151515" stroke-width="2.6" stroke-linejoin="round"/><path d="M686.2 688.3 C686.2 681.3 689.2 679.3 692.2 680.3 L697.2 687.3 C694.2 690.3 688.2 690.3 686.2 688.3Z" fill="none" stroke="#151515" stroke-width="2.6" stroke-linejoin="round"/><path d="M735.9 713.1 C735.9 706.1 738.9 704.1 741.9 705.1 L746.9 712.1 C743.9 715.1 737.9 715.1 735.9 713.1Z" fill="none" stroke="#151515" stroke-width="2.6" stroke-linejoin="round"/><path d="M785.5 737.9 C785.5 730.9 788.5 728.9 791.5 729.9 L796.5 736.9 C793.5 739.9 787.5 739.9 785.5 737.9Z" fill="none" stroke="#151515" stroke-width="2.6" stroke-linejoin="round"/><path d="M490.6 439.3 C490.6 432.3 493.6 430.3 496.6 431.3 L501.6 438.3 C498.6 441.3 492.6 441.3 490.6 439.3Z" fill="none" stroke="#151515" stroke-width="2.6" stroke-linejoin="round"/><path d="M540.3 464.1 C540.3 457.1 543.3 455.1 546.3 456.1 L551.3 463.1 C548.3 466.1 542.3 466.1 540.3 464.1Z" fill="none" stroke="#151515" stroke-width="2.6" stroke-linejoin="round"/><path d="M589.9 488.9 C589.9 481.9 592.9 479.9 595.9 480.9 L600.9 487.9 C597.9 490.9 591.9 490.9 589.9 488.9Z" fill="none" stroke="#151515" stroke-width="2.6" stroke-linejoin="round"/><path d="M639.6 513.7 C639.6 506.7 642.6 504.7 645.6 505.7 L650.6 512.7 C647.6 515.7 641.6 515.7 639.6 513.7Z" fill="none" stroke="#151515" stroke-width="2.6" stroke-linejoin="round"/><path d="M689.2 538.5 C689.2 531.5 692.2 529.5 695.2 530.5 L700.2 537.5 C697.2 540.5 691.2 540.5 689.2 538.5Z" fill="none" stroke="#151515" stroke-width="2.6" stroke-linejoin="round"/><path d="M738.9 563.3 C738.9 556.3 741.9 554.3 744.9 555.3 L749.9 562.3 C746.9 565.3 740.9 565.3 738.9 563.3Z" fill="none" stroke="#151515" stroke-width="2.6" stroke-linejoin="round"/><path d="M788.6 588.1 C788.6 581.1 791.6 579.1 794.6 580.1 L799.6 587.1 C796.6 590.1 790.6 590.1 788.6 588.1Z" fill="none" stroke="#151515" stroke-width="2.6" stroke-linejoin="round"/><path d="M838.2 612.9 C838.2 605.9 841.2 603.9 844.2 604.9 L849.2 611.9 C846.2 614.9 840.2 614.9 838.2 612.9Z" fill="none" stroke="#151515" stroke-width="2.6" stroke-linejoin="round"/><path d="M887.9 637.7 C887.9 630.7 890.9 628.7 893.9 629.7 L898.9 636.7 C895.9 639.7 889.9 639.7 887.9 637.7Z" fill="none" stroke="#151515" stroke-width="2.6" stroke-linejoin="round"/><path d="M937.5 662.5 C937.5 655.5 940.5 653.5 943.5 654.5 L948.5 661.5 C945.5 664.5 939.5 664.5 937.5 662.5Z" fill="none" stroke="#151515" stroke-width="2.6" stroke-linejoin="round"/><path d="M668 561 L797 400 C802 392 806 396 804 404 L802 412" stroke="#222" stroke-width="3.6" fill="none" stroke-linecap="round"/><path d="M668 561 L797 400 C802 392 806 396 804 404 L802 412" stroke="#c8c8c8" stroke-width="1.6" fill="none" stroke-linecap="round"/><path d="M812 412 C826 425 832 445 828 468" stroke="#3a0806" stroke-width="7" fill="none"/><path d="M812 412 C826 425 832 445 828 468" stroke="#9e1e1e" stroke-width="4.5" fill="none"/><path d="M820 462 L828 476 L836 462Z" fill="#9e1e1e" stroke="#3a0806" stroke-width="1"/><circle cx="809" cy="443" r="61" fill="none" stroke="#333" stroke-width="1.2" stroke-dasharray="6 3"/><line x1="850" y1="398" x2="934" y2="319" stroke="#333" stroke-width="1.2" stroke-dasharray="9 3 2 3"/><clipPath id="dc6"><circle cx="1031" cy="229" r="123"/></clipPath><circle cx="1031" cy="229" r="123" fill="#fff"/><g clip-path="url(#dc6)"><path d="M895 166L1042 233M895 216L1042 283M895 266L1042 333M895 316L1042 383M1042 232L1165 170M1042 289L1165 227M1042 342L1165 280" stroke="#1e2226" stroke-width="8" fill="none" stroke-linecap="butt"/><path d="M895 166L1042 233M895 216L1042 283M895 266L1042 333M895 316L1042 383M1042 232L1165 170M1042 289L1165 227M1042 342L1165 280" stroke="#9fb2c2" stroke-width="4.5" fill="none" stroke-linecap="butt"/><path d="M944 96L944 370M969 96L969 370M994 96L994 370M1026 96L1026 370M1042 96L1042 370M1089 96L1089 370M1149 96L1149 370" stroke="#1e2226" stroke-width="8" fill="none" stroke-linecap="butt"/><path d="M944 96L944 370M969 96L969 370M994 96L994 370M1026 96L1026 370M1042 96L1042 370M1089 96L1089 370M1149 96L1149 370" stroke="#9fb2c2" stroke-width="4.5" fill="none" stroke-linecap="butt"/><path d="M909 256 L1012 140 C1020 128 1034 132 1030 146 L1002 174" stroke="#222" stroke-width="6" fill="none" stroke-linecap="round"/><path d="M909 256 L1012 140 C1020 128 1034 132 1030 146 L1002 174" stroke="#ddd" stroke-width="3.2" fill="none" stroke-linecap="round"/><path d="M1024 150 C1055 185 1068 230 1068 282" stroke="#3a0806" stroke-width="9" fill="none"/><path d="M1024 150 C1055 185 1068 230 1068 282" stroke="#9e1e1e" stroke-width="6.5" fill="none"/><path d="M1058 276 L1069 300 L1079 276Z" fill="#9e1e1e" stroke="#3a0806" stroke-width="1.2"/><ellipse cx="1032" cy="332" rx="14" ry="7" fill="none" stroke="#222" stroke-width="3"/><ellipse cx="1032" cy="332" rx="14" ry="7" fill="none" stroke="#ccc" stroke-width="1.4"/></g><circle cx="1031" cy="229" r="123" fill="none" stroke="#222" stroke-width="1.6"/>
<rect x="41.6" y="41.6" width="1157" height="794" fill="none" stroke="#111" stroke-width="1.7"/><rect x="1086.6" y="814.6" width="112" height="20.9" fill="none" stroke="#111" stroke-width="1.7"/><text x="1089" y="822.5" font-family="Liberation Sans" font-size="6" fill="#333">Seite</text><text x="1146" y="829.8" text-anchor="middle" font-family="Liberation Sans" font-size="13" fill="#111">6 von 8</text><text x="1191" y="805.5" text-anchor="end" font-family="Liberation Sans" font-size="70" fill="#000">6</text>
</g>
<g transform="translate(0 2630.2)">
<g><ellipse cx="641" cy="364" rx="442" ry="212" fill="#ecefea" filter="url(#soft)"/><ellipse cx="641" cy="364" rx="425" ry="197" fill="none" stroke="#f3f6f2" stroke-width="5" filter="url(#soft)"/><circle cx="256" cy="352" r="20" fill="#f3f5f2"/><circle cx="1013" cy="358" r="19" fill="#f3f5f2"/><text x="344" y="404" font-family="Liberation Sans" font-size="140" fill="#f2f5f1" textLength="588" lengthAdjust="spacingAndGlyphs">GABIONA</text><circle cx="953" cy="325" r="20" fill="none" stroke="#f2f5f1" stroke-width="3.5"/><text x="953" y="337" text-anchor="middle" font-family="Liberation Sans" font-weight="bold" font-size="30" fill="#f2f5f1">R</text><text x="636" y="666" text-anchor="middle" font-family="Liberation Sans" font-size="58" fill="#e3e3e3" textLength="396" lengthAdjust="spacing">QUALITÄT</text><rect x="363" y="681" width="546" height="2.5" fill="#e8e8e8"/><text x="636" y="730" text-anchor="middle" font-family="Liberation Sans" font-weight="bold" font-size="36" fill="#e5e5e5" textLength="241" lengthAdjust="spacing">SEIT 1954</text><rect x="283" y="654" width="18" height="17" rx="3" fill="#dcdde1"/><rect x="304" y="654" width="18" height="17" rx="3" fill="#dcdde1"/><rect x="325" y="654" width="18" height="17" rx="3" fill="#dcdde1"/><rect x="283" y="674" width="18" height="17" rx="3" fill="#f3dfe2"/><rect x="304" y="674" width="18" height="17" rx="3" fill="#f3dfe2"/><rect x="325" y="674" width="18" height="17" rx="3" fill="#f3dfe2"/><rect x="283" y="694" width="18" height="17" rx="3" fill="#f7f2da"/><rect x="304" y="694" width="18" height="17" rx="3" fill="#f7f2da"/><rect x="325" y="694" width="18" height="17" rx="3" fill="#f7f2da"/><rect x="927" y="654" width="18" height="17" rx="3" fill="#dcdde1"/><rect x="948" y="654" width="18" height="17" rx="3" fill="#dcdde1"/><rect x="969" y="654" width="18" height="17" rx="3" fill="#dcdde1"/><rect x="927" y="674" width="18" height="17" rx="3" fill="#f3dfe2"/><rect x="948" y="674" width="18" height="17" rx="3" fill="#f3dfe2"/><rect x="969" y="674" width="18" height="17" rx="3" fill="#f3dfe2"/><rect x="927" y="694" width="18" height="17" rx="3" fill="#f7f2da"/><rect x="948" y="694" width="18" height="17" rx="3" fill="#f7f2da"/><rect x="969" y="694" width="18" height="17" rx="3" fill="#f7f2da"/></g>
<path d="M406.3 63.8L406.3 426M435.9 78.5L435.9 440.7M465.4 93.3L465.4 455.4M495 108L495 470.1M524.6 122.7L524.6 484.9M554.1 137.4L554.1 499.6M583.7 152.1L583.7 514.3M613.3 166.9L613.3 529M642.9 181.6L642.9 543.7M672.4 196.3L672.4 558.5M702 211L702 573.2M731.6 225.7L731.6 587.9M761.1 240.5L761.1 602.6M790.7 255.2L790.7 617.3M820.3 269.9L820.3 632.1M849.9 284.6L849.9 646.8M879.4 299.3L879.4 661.5M909 314.1L909 676.2M938.6 328.8L938.6 690.9M968.1 343.5L968.1 705.7M997.7 358.2L997.7 720.4" stroke="#1b1f22" stroke-width="3.8" fill="none" stroke-linecap="butt"/><path d="M406.3 63.8L406.3 426M435.9 78.5L435.9 440.7M465.4 93.3L465.4 455.4M495 108L495 470.1M524.6 122.7L524.6 484.9M554.1 137.4L554.1 499.6M583.7 152.1L583.7 514.3M613.3 166.9L613.3 529M642.9 181.6L642.9 543.7M672.4 196.3L672.4 558.5M702 211L702 573.2M731.6 225.7L731.6 587.9M761.1 240.5L761.1 602.6M790.7 255.2L790.7 617.3M820.3 269.9L820.3 632.1M849.9 284.6L849.9 646.8M879.4 299.3L879.4 661.5M909 314.1L909 676.2M938.6 328.8L938.6 690.9M968.1 343.5L968.1 705.7M997.7 358.2L997.7 720.4" stroke="#5a666e" stroke-width="1.3" fill="none" stroke-linecap="butt"/><path d="M405.4 64.5L998.6 359.7M405.4 100.5L998.6 395.7M405.4 136.5L998.6 431.7M405.4 172.5L998.6 467.7M405.4 208.5L998.6 503.7M405.4 244.5L998.6 539.7M405.4 280.5L998.6 575.7M405.4 316.5L998.6 611.7M405.4 352.5L998.6 647.7M405.4 388.5L998.6 683.7M405.4 424.5L998.6 719.7" stroke="#1b1f22" stroke-width="3.8" fill="none" stroke-linecap="butt"/><path d="M405.4 64.5L998.6 359.7M405.4 100.5L998.6 395.7M405.4 136.5L998.6 431.7M405.4 172.5L998.6 467.7M405.4 208.5L998.6 503.7M405.4 244.5L998.6 539.7M405.4 280.5L998.6 575.7M405.4 316.5L998.6 611.7M405.4 352.5L998.6 647.7M405.4 388.5L998.6 683.7M405.4 424.5L998.6 719.7" stroke="#5a666e" stroke-width="1.3" fill="none" stroke-linecap="butt"/><path d="M217 518.7L407.2 424.4M246.5 533.3L436.8 439.1M276.1 547.9L466.4 453.7M305.6 562.6L495.9 468.3M335.2 577.2L525.5 483M364.8 591.8L555 497.6M394.3 606.4L584.6 512.2M423.9 621.1L614.2 526.8M453.4 635.7L643.7 541.5M483 650.3L673.3 556.1M512.6 665L702.8 570.7M542.1 679.6L732.4 585.4M571.7 694.2L762 600M601.2 708.9L791.5 614.6M630.8 723.5L821.1 629.3M660.4 738.1L850.6 643.9M689.9 752.7L880.2 658.5M719.5 767.4L909.8 673.1M749 782L939.3 687.8M778.6 796.6L968.9 702.4M808.2 811.3L998.4 717" stroke="#1b1f22" stroke-width="3.8" fill="none" stroke-linecap="butt"/><path d="M217 518.7L407.2 424.4M246.5 533.3L436.8 439.1M276.1 547.9L466.4 453.7M305.6 562.6L495.9 468.3M335.2 577.2L525.5 483M364.8 591.8L555 497.6M394.3 606.4L584.6 512.2M423.9 621.1L614.2 526.8M453.4 635.7L643.7 541.5M483 650.3L673.3 556.1M512.6 665L702.8 570.7M542.1 679.6L732.4 585.4M571.7 694.2L762 600M601.2 708.9L791.5 614.6M630.8 723.5L821.1 629.3M660.4 738.1L850.6 643.9M689.9 752.7L880.2 658.5M719.5 767.4L909.8 673.1M749 782L939.3 687.8M778.6 796.6L968.9 702.4M808.2 811.3L998.4 717" stroke="#5a666e" stroke-width="1.3" fill="none" stroke-linecap="butt"/><path d="M217 517.8L810 811.2M248.4 502.2L841.4 795.7M279.8 486.7L872.8 780.1M311.2 471.1L904.2 764.6M342.6 455.6L935.6 749M374 440L967 733.5M405.4 424.5L998.4 717.9" stroke="#1b1f22" stroke-width="3.8" fill="none" stroke-linecap="butt"/><path d="M217 517.8L810 811.2M248.4 502.2L841.4 795.7M279.8 486.7L872.8 780.1M311.2 471.1L904.2 764.6M342.6 455.6L935.6 749M374 440L967 733.5M405.4 424.5L998.4 717.9" stroke="#5a666e" stroke-width="1.3" fill="none" stroke-linecap="butt"/><path d="M818.4 452L818.4 814.2M848.3 436.4L848.3 798.6M878.2 420.8L878.2 783M908.1 405.2L908.1 767.4M938 389.6L938 751.8M967.9 374L967.9 736.2M997.8 358.4L997.8 720.6" stroke="#1b1f22" stroke-width="3.8" fill="none" stroke-linecap="butt"/><path d="M818.4 452L818.4 814.2M848.3 436.4L848.3 798.6M878.2 420.8L878.2 783M908.1 405.2L908.1 767.4M938 389.6L938 751.8M967.9 374L967.9 736.2M997.8 358.4L997.8 720.6" stroke="#5a666e" stroke-width="1.3" fill="none" stroke-linecap="butt"/><path d="M817.5 453.6L998.7 359M817.5 489.6L998.7 395M817.5 525.6L998.7 431M817.5 561.6L998.7 467M817.5 597.6L998.7 503M817.5 633.6L998.7 539M817.5 669.6L998.7 575M817.5 705.6L998.7 611M817.5 741.6L998.7 647M817.5 777.6L998.7 683M817.5 813.6L998.7 719" stroke="#1b1f22" stroke-width="3.8" fill="none" stroke-linecap="butt"/><path d="M817.5 453.6L998.7 359M817.5 489.6L998.7 395M817.5 525.6L998.7 431M817.5 561.6L998.7 467M817.5 597.6L998.7 503M817.5 633.6L998.7 539M817.5 669.6L998.7 575M817.5 705.6L998.7 611M817.5 741.6L998.7 647M817.5 777.6L998.7 683M817.5 813.6L998.7 719" stroke="#5a666e" stroke-width="1.3" fill="none" stroke-linecap="butt"/><path d="M217.9 157.1L217.9 519.3M247.5 171.7L247.5 533.9M277 186.4L277 548.5M306.6 201L306.6 563.2M336.1 215.6L336.1 577.8M365.7 230.3L365.7 592.4M395.3 244.9L395.3 607.1M424.8 259.5L424.8 621.7M454.4 274.2L454.4 636.3M483.9 288.8L483.9 651M513.5 303.4L513.5 665.6M543.1 318.1L543.1 680.2M572.6 332.7L572.6 694.8M602.2 347.3L602.2 709.5M631.7 361.9L631.7 724.1M661.3 376.6L661.3 738.7M690.9 391.2L690.9 753.4M720.4 405.8L720.4 768M750 420.5L750 782.6M779.5 435.1L779.5 797.2M809.1 449.7L809.1 811.9" stroke="#1b1f22" stroke-width="3.8" fill="none" stroke-linecap="butt"/><path d="M217.9 157.1L217.9 519.3M247.5 171.7L247.5 533.9M277 186.4L277 548.5M306.6 201L306.6 563.2M336.1 215.6L336.1 577.8M365.7 230.3L365.7 592.4M395.3 244.9L395.3 607.1M424.8 259.5L424.8 621.7M454.4 274.2L454.4 636.3M483.9 288.8L483.9 651M513.5 303.4L513.5 665.6M543.1 318.1L543.1 680.2M572.6 332.7L572.6 694.8M602.2 347.3L602.2 709.5M631.7 361.9L631.7 724.1M661.3 376.6L661.3 738.7M690.9 391.2L690.9 753.4M720.4 405.8L720.4 768M750 420.5L750 782.6M779.5 435.1L779.5 797.2M809.1 449.7L809.1 811.9" stroke="#5a666e" stroke-width="1.3" fill="none" stroke-linecap="butt"/><path d="M217 157.8L810 451.2M217 193.8L810 487.2M217 229.8L810 523.2M217 265.8L810 559.2M217 301.8L810 595.2M217 337.8L810 631.2M217 373.8L810 667.2M217 409.8L810 703.2M217 445.8L810 739.2M217 481.8L810 775.2M217 517.8L810 811.2" stroke="#1b1f22" stroke-width="3.8" fill="none" stroke-linecap="butt"/><path d="M217 157.8L810 451.2M217 193.8L810 487.2M217 229.8L810 523.2M217 265.8L810 559.2M217 301.8L810 595.2M217 337.8L810 631.2M217 373.8L810 667.2M217 409.8L810 703.2M217 445.8L810 739.2M217 481.8L810 775.2M217 517.8L810 811.2" stroke="#5a666e" stroke-width="1.3" fill="none" stroke-linecap="butt"/><path d="M996.8 424.5 C996.8 417.5 999.8 415.5 1002.8 416.5 L1007.8 423.5 C1004.8 426.5 998.8 426.5 996.8 424.5Z" fill="none" stroke="#151515" stroke-width="2.6" stroke-linejoin="round"/><path d="M996.8 496.5 C996.8 489.5 999.8 487.5 1002.8 488.5 L1007.8 495.5 C1004.8 498.5 998.8 498.5 996.8 496.5Z" fill="none" stroke="#151515" stroke-width="2.6" stroke-linejoin="round"/><path d="M996.8 568.5 C996.8 561.5 999.8 559.5 1002.8 560.5 L1007.8 567.5 C1004.8 570.5 998.8 570.5 996.8 568.5Z" fill="none" stroke="#151515" stroke-width="2.6" stroke-linejoin="round"/><path d="M996.8 640.5 C996.8 633.5 999.8 631.5 1002.8 632.5 L1007.8 639.5 C1004.8 642.5 998.8 642.5 996.8 640.5Z" fill="none" stroke="#151515" stroke-width="2.6" stroke-linejoin="round"/><path d="M996.8 712.5 C996.8 705.5 999.8 703.5 1002.8 704.5 L1007.8 711.5 C1004.8 714.5 998.8 714.5 996.8 712.5Z" fill="none" stroke="#151515" stroke-width="2.6" stroke-linejoin="round"/><path d="M811.4 499.1 C811.4 492.1 814.4 490.1 817.4 491.1 L822.4 498.1 C819.4 501.1 813.4 501.1 811.4 499.1Z" fill="none" stroke="#151515" stroke-width="2.6" stroke-linejoin="round"/><path d="M811.4 589.1 C811.4 582.1 814.4 580.1 817.4 581.1 L822.4 588.1 C819.4 591.1 813.4 591.1 811.4 589.1Z" fill="none" stroke="#151515" stroke-width="2.6" stroke-linejoin="round"/><path d="M811.4 679.1 C811.4 672.1 814.4 670.1 817.4 671.1 L822.4 678.1 C819.4 681.1 813.4 681.1 811.4 679.1Z" fill="none" stroke="#151515" stroke-width="2.6" stroke-linejoin="round"/><path d="M811.4 769.1 C811.4 762.1 814.4 760.1 817.4 761.1 L822.4 768.1 C819.4 771.1 813.4 771.1 811.4 769.1Z" fill="none" stroke="#151515" stroke-width="2.6" stroke-linejoin="round"/><path d="M236.9 527.2 C236.9 520.2 239.9 518.2 242.9 519.2 L247.9 526.2 C244.9 529.2 238.9 529.2 236.9 527.2Z" fill="none" stroke="#151515" stroke-width="2.6" stroke-linejoin="round"/><path d="M296 556.5 C296 549.5 299 547.5 302 548.5 L307 555.5 C304 558.5 298 558.5 296 556.5Z" fill="none" stroke="#151515" stroke-width="2.6" stroke-linejoin="round"/><path d="M355.1 585.7 C355.1 578.7 358.1 576.7 361.1 577.7 L366.1 584.7 C363.1 587.7 357.1 587.7 355.1 585.7Z" fill="none" stroke="#151515" stroke-width="2.6" stroke-linejoin="round"/><path d="M414.3 615 C414.3 608 417.3 606 420.3 607 L425.3 614 C422.3 617 416.3 617 414.3 615Z" fill="none" stroke="#151515" stroke-width="2.6" stroke-linejoin="round"/><path d="M473.4 644.2 C473.4 637.2 476.4 635.2 479.4 636.2 L484.4 643.2 C481.4 646.2 475.4 646.2 473.4 644.2Z" fill="none" stroke="#151515" stroke-width="2.6" stroke-linejoin="round"/><path d="M532.5 673.5 C532.5 666.5 535.5 664.5 538.5 665.5 L543.5 672.5 C540.5 675.5 534.5 675.5 532.5 673.5Z" fill="none" stroke="#151515" stroke-width="2.6" stroke-linejoin="round"/><path d="M591.6 702.8 C591.6 695.8 594.6 693.8 597.6 694.8 L602.6 701.8 C599.6 704.8 593.6 704.8 591.6 702.8Z" fill="none" stroke="#151515" stroke-width="2.6" stroke-linejoin="round"/><path d="M650.7 732 C650.7 725 653.7 723 656.7 724 L661.7 731 C658.7 734 652.7 734 650.7 732Z" fill="none" stroke="#151515" stroke-width="2.6" stroke-linejoin="round"/><path d="M709.9 761.3 C709.9 754.3 712.9 752.3 715.9 753.3 L720.9 760.3 C717.9 763.3 711.9 763.3 709.9 761.3Z" fill="none" stroke="#151515" stroke-width="2.6" stroke-linejoin="round"/><path d="M769 790.5 C769 783.5 772 781.5 775 782.5 L780 789.5 C777 792.5 771 792.5 769 790.5Z" fill="none" stroke="#151515" stroke-width="2.6" stroke-linejoin="round"/><path d="M425.3 433.9 C425.3 426.9 428.3 424.9 431.3 425.9 L436.3 432.9 C433.3 435.9 427.3 435.9 425.3 433.9Z" fill="none" stroke="#151515" stroke-width="2.6" stroke-linejoin="round"/><path d="M484.4 463.2 C484.4 456.2 487.4 454.2 490.4 455.2 L495.4 462.2 C492.4 465.2 486.4 465.2 484.4 463.2Z" fill="none" stroke="#151515" stroke-width="2.6" stroke-linejoin="round"/><path d="M543.5 492.4 C543.5 485.4 546.5 483.4 549.5 484.4 L554.5 491.4 C551.5 494.4 545.5 494.4 543.5 492.4Z" fill="none" stroke="#151515" stroke-width="2.6" stroke-linejoin="round"/><path d="M602.7 521.7 C602.7 514.7 605.7 512.7 608.7 513.7 L613.7 520.7 C610.7 523.7 604.7 523.7 602.7 521.7Z" fill="none" stroke="#151515" stroke-width="2.6" stroke-linejoin="round"/><path d="M661.8 550.9 C661.8 543.9 664.8 541.9 667.8 542.9 L672.8 549.9 C669.8 552.9 663.8 552.9 661.8 550.9Z" fill="none" stroke="#151515" stroke-width="2.6" stroke-linejoin="round"/><path d="M720.9 580.2 C720.9 573.2 723.9 571.2 726.9 572.2 L731.9 579.2 C728.9 582.2 722.9 582.2 720.9 580.2Z" fill="none" stroke="#151515" stroke-width="2.6" stroke-linejoin="round"/><path d="M780 609.5 C780 602.5 783 600.5 786 601.5 L791 608.5 C788 611.5 782 611.5 780 609.5Z" fill="none" stroke="#151515" stroke-width="2.6" stroke-linejoin="round"/><path d="M839.1 638.7 C839.1 631.7 842.1 629.7 845.1 630.7 L850.1 637.7 C847.1 640.7 841.1 640.7 839.1 638.7Z" fill="none" stroke="#151515" stroke-width="2.6" stroke-linejoin="round"/><path d="M898.3 668 C898.3 661 901.3 659 904.3 660 L909.3 667 C906.3 670 900.3 670 898.3 668Z" fill="none" stroke="#151515" stroke-width="2.6" stroke-linejoin="round"/><path d="M957.4 697.2 C957.4 690.2 960.4 688.2 963.4 689.2 L968.4 696.2 C965.4 699.2 959.4 699.2 957.4 697.2Z" fill="none" stroke="#151515" stroke-width="2.6" stroke-linejoin="round"/><path d="M389 317 C383 307 389 301 393 309 L569 218 C575 210 579 220 573 228" stroke="#222" stroke-width="3.6" fill="none" stroke-linecap="round"/><path d="M389 317 C383 307 389 301 393 309 L569 218 C575 210 579 220 573 228" stroke="#c8c8c8" stroke-width="1.6" fill="none" stroke-linecap="round"/><path d="M378 465 C372 455 378 449 382 457 L565 366 C571 358 575 368 569 376" stroke="#222" stroke-width="3.6" fill="none" stroke-linecap="round"/><path d="M378 465 C372 455 378 449 382 457 L565 366 C571 358 575 368 569 376" stroke="#c8c8c8" stroke-width="1.6" fill="none" stroke-linecap="round"/><path d="M649 451 C643 441 649 435 653 443 L832 351 C838 343 842 353 836 361" stroke="#222" stroke-width="3.6" fill="none" stroke-linecap="round"/><path d="M649 451 C643 441 649 435 653 443 L832 351 C838 343 842 353 836 361" stroke="#c8c8c8" stroke-width="1.6" fill="none" stroke-linecap="round"/><path d="M645 596 C639 586 645 580 649 588 L832 496 C838 488 842 498 836 506" stroke="#222" stroke-width="3.6" fill="none" stroke-linecap="round"/><path d="M645 596 C639 586 645 580 649 588 L832 496 C838 488 842 498 836 506" stroke="#c8c8c8" stroke-width="1.6" fill="none" stroke-linecap="round"/><path d="M329.7 333L347.9 325.2L349.1 327.9L356.6 317.6L343.9 316L345.1 318.7L326.9 326.6Z" fill="#d8261e" stroke="#4a0806" stroke-width="1.2" stroke-linejoin="round"/><path d="M329.8 478.1L346.6 469.9L347.9 472.6L355 462L342.3 460.9L343.6 463.6L326.8 471.7Z" fill="#d8261e" stroke="#4a0806" stroke-width="1.2" stroke-linejoin="round"/><path d="M597.1 467.4L613.7 459.8L615 462.5L622.3 452L609.6 450.7L610.8 453.4L594.1 461Z" fill="#d8261e" stroke="#4a0806" stroke-width="1.2" stroke-linejoin="round"/><path d="M597 611.7L613.6 604.6L614.8 607.3L622.3 597L609.6 595.4L610.8 598.1L594.2 605.3Z" fill="#d8261e" stroke="#4a0806" stroke-width="1.2" stroke-linejoin="round"/>
<rect x="41.6" y="41.6" width="1157" height="794" fill="none" stroke="#111" stroke-width="1.7"/><rect x="1086.6" y="814.6" width="112" height="20.9" fill="none" stroke="#111" stroke-width="1.7"/><text x="1089" y="822.5" font-family="Liberation Sans" font-size="6" fill="#333">Seite</text><text x="1146" y="829.8" text-anchor="middle" font-family="Liberation Sans" font-size="13" fill="#111">7 von 8</text><text x="1191" y="805.5" text-anchor="end" font-family="Liberation Sans" font-size="70" fill="#000">7</text>
</g>
<g transform="translate(1240 2630.2)">
<g><ellipse cx="641" cy="364" rx="442" ry="212" fill="#ecefea" filter="url(#soft)"/><ellipse cx="641" cy="364" rx="425" ry="197" fill="none" stroke="#f3f6f2" stroke-width="5" filter="url(#soft)"/><circle cx="256" cy="352" r="20" fill="#f3f5f2"/><circle cx="1013" cy="358" r="19" fill="#f3f5f2"/><text x="344" y="404" font-family="Liberation Sans" font-size="140" fill="#f2f5f1" textLength="588" lengthAdjust="spacingAndGlyphs">GABIONA</text><circle cx="953" cy="325" r="20" fill="none" stroke="#f2f5f1" stroke-width="3.5"/><text x="953" y="337" text-anchor="middle" font-family="Liberation Sans" font-weight="bold" font-size="30" fill="#f2f5f1">R</text><text x="636" y="666" text-anchor="middle" font-family="Liberation Sans" font-size="58" fill="#e3e3e3" textLength="396" lengthAdjust="spacing">QUALITÄT</text><rect x="363" y="681" width="546" height="2.5" fill="#e8e8e8"/><text x="636" y="730" text-anchor="middle" font-family="Liberation Sans" font-weight="bold" font-size="36" fill="#e5e5e5" textLength="241" lengthAdjust="spacing">SEIT 1954</text><rect x="283" y="654" width="18" height="17" rx="3" fill="#dcdde1"/><rect x="304" y="654" width="18" height="17" rx="3" fill="#dcdde1"/><rect x="325" y="654" width="18" height="17" rx="3" fill="#dcdde1"/><rect x="283" y="674" width="18" height="17" rx="3" fill="#f3dfe2"/><rect x="304" y="674" width="18" height="17" rx="3" fill="#f3dfe2"/><rect x="325" y="674" width="18" height="17" rx="3" fill="#f3dfe2"/><rect x="283" y="694" width="18" height="17" rx="3" fill="#f7f2da"/><rect x="304" y="694" width="18" height="17" rx="3" fill="#f7f2da"/><rect x="325" y="694" width="18" height="17" rx="3" fill="#f7f2da"/><rect x="927" y="654" width="18" height="17" rx="3" fill="#dcdde1"/><rect x="948" y="654" width="18" height="17" rx="3" fill="#dcdde1"/><rect x="969" y="654" width="18" height="17" rx="3" fill="#dcdde1"/><rect x="927" y="674" width="18" height="17" rx="3" fill="#f3dfe2"/><rect x="948" y="674" width="18" height="17" rx="3" fill="#f3dfe2"/><rect x="969" y="674" width="18" height="17" rx="3" fill="#f3dfe2"/><rect x="927" y="694" width="18" height="17" rx="3" fill="#f7f2da"/><rect x="948" y="694" width="18" height="17" rx="3" fill="#f7f2da"/><rect x="969" y="694" width="18" height="17" rx="3" fill="#f7f2da"/></g>
<path d="M311.5 126.5L311.5 491.7M348 136.8L348 502M384.5 147.1L384.5 512.2M421 157.4L421 522.5M457.5 167.6L457.5 532.8M494 177.9L494 543.1M530.6 188.2L530.6 553.4M567.1 198.5L567.1 563.6M603.6 208.8L603.6 573.9M640.1 219L640.1 584.2M676.6 229.3L676.6 594.5M713.1 239.6L713.1 604.8M749.6 249.9L749.6 615M786.1 260.2L786.1 625.3M822.6 270.4L822.6 635.6M859.1 280.7L859.1 645.9M895.7 291L895.7 656.2M932.2 301.3L932.2 666.4M968.7 311.6L968.7 676.7M1005.2 321.8L1005.2 687M1041.7 332.1L1041.7 697.3" stroke="#1b1f22" stroke-width="4.2" fill="none" stroke-linecap="butt"/><path d="M311.5 126.5L311.5 491.7M348 136.8L348 502M384.5 147.1L384.5 512.2M421 157.4L421 522.5M457.5 167.6L457.5 532.8M494 177.9L494 543.1M530.6 188.2L530.6 553.4M567.1 198.5L567.1 563.6M603.6 208.8L603.6 573.9M640.1 219L640.1 584.2M676.6 229.3L676.6 594.5M713.1 239.6L713.1 604.8M749.6 249.9L749.6 615M786.1 260.2L786.1 625.3M822.6 270.4L822.6 635.6M859.1 280.7L859.1 645.9M895.7 291L895.7 656.2M932.2 301.3L932.2 666.4M968.7 311.6L968.7 676.7M1005.2 321.8L1005.2 687M1041.7 332.1L1041.7 697.3" stroke="#66727a" stroke-width="1.6" fill="none" stroke-linecap="butt"/><path d="M310.4 127.3L1042.8 333.5M310.4 163.6L1042.8 369.8M310.4 199.9L1042.8 406.1M310.4 236.2L1042.8 442.4M310.4 272.5L1042.8 478.7M310.4 308.8L1042.8 515M310.4 345.1L1042.8 551.3M310.4 381.4L1042.8 587.6M310.4 417.7L1042.8 623.9M310.4 454L1042.8 660.2M310.4 490.3L1042.8 696.5" stroke="#1b1f22" stroke-width="4.2" fill="none" stroke-linecap="butt"/><path d="M310.4 127.3L1042.8 333.5M310.4 163.6L1042.8 369.8M310.4 199.9L1042.8 406.1M310.4 236.2L1042.8 442.4M310.4 272.5L1042.8 478.7M310.4 308.8L1042.8 515M310.4 345.1L1042.8 551.3M310.4 381.4L1042.8 587.6M310.4 417.7L1042.8 623.9M310.4 454L1042.8 660.2M310.4 490.3L1042.8 696.5" stroke="#66727a" stroke-width="1.6" fill="none" stroke-linecap="butt"/><path d="M183.1 237.5L183.1 602.7M204.5 219L204.5 584.2M225.9 200.5L225.9 565.7M247.3 182L247.3 547.2M268.7 163.5L268.7 528.7M290.1 145L290.1 510.2M311.5 126.5L311.5 491.7" stroke="#1b1f22" stroke-width="4.2" fill="none" stroke-linecap="butt"/><path d="M183.1 237.5L183.1 602.7M204.5 219L204.5 584.2M225.9 200.5L225.9 565.7M247.3 182L247.3 547.2M268.7 163.5L268.7 528.7M290.1 145L290.1 510.2M311.5 126.5L311.5 491.7" stroke="#66727a" stroke-width="1.6" fill="none" stroke-linecap="butt"/><path d="M182.5 239.2L312.1 127M182.5 275.5L312.1 163.3M182.5 311.8L312.1 199.6M182.5 348.1L312.1 235.9M182.5 384.4L312.1 272.2M182.5 420.7L312.1 308.5M182.5 457L312.1 344.8M182.5 493.3L312.1 381.1M182.5 529.6L312.1 417.4M182.5 565.9L312.1 453.7M182.5 602.2L312.1 490" stroke="#1b1f22" stroke-width="4.2" fill="none" stroke-linecap="butt"/><path d="M182.5 239.2L312.1 127M182.5 275.5L312.1 163.3M182.5 311.8L312.1 199.6M182.5 348.1L312.1 235.9M182.5 384.4L312.1 272.2M182.5 420.7L312.1 308.5M182.5 457L312.1 344.8M182.5 493.3L312.1 381.1M182.5 529.6L312.1 417.4M182.5 565.9L312.1 453.7M182.5 602.2L312.1 490" stroke="#66727a" stroke-width="1.6" fill="none" stroke-linecap="butt"/><path d="M182.5 602.2L312.1 490M219 612.4L348.7 500.3M255.5 622.7L385.2 510.6M292 633L421.7 520.9M328.5 643.3L458.2 531.2M365 653.6L494.7 541.4M401.5 663.8L531.2 551.7M438 674.1L567.7 562M474.5 684.4L604.2 572.3M511 694.7L640.7 582.6M547.6 705L677.2 592.8M584.1 715.2L713.8 603.1M620.6 725.5L750.3 613.4M657.1 735.8L786.8 623.7M693.6 746.1L823.3 634M730.1 756.4L859.8 644.2M766.6 766.6L896.3 654.5M803.1 776.9L932.8 664.8M839.6 787.2L969.3 675.1M876.1 797.5L1005.8 685.4M912.7 807.8L1042.3 695.6" stroke="#1b1f22" stroke-width="4.2" fill="none" stroke-linecap="butt"/><path d="M182.5 602.2L312.1 490M219 612.4L348.7 500.3M255.5 622.7L385.2 510.6M292 633L421.7 520.9M328.5 643.3L458.2 531.2M365 653.6L494.7 541.4M401.5 663.8L531.2 551.7M438 674.1L567.7 562M474.5 684.4L604.2 572.3M511 694.7L640.7 582.6M547.6 705L677.2 592.8M584.1 715.2L713.8 603.1M620.6 725.5L750.3 613.4M657.1 735.8L786.8 623.7M693.6 746.1L823.3 634M730.1 756.4L859.8 644.2M766.6 766.6L896.3 654.5M803.1 776.9L932.8 664.8M839.6 787.2L969.3 675.1M876.1 797.5L1005.8 685.4M912.7 807.8L1042.3 695.6" stroke="#66727a" stroke-width="1.6" fill="none" stroke-linecap="butt"/><path d="M182 601.3L914.4 807.5M203.4 582.8L935.8 789M224.8 564.3L957.2 770.5M246.2 545.8L978.6 752M267.6 527.3L1000 733.5M289 508.8L1021.4 715M310.4 490.3L1042.8 696.5" stroke="#1b1f22" stroke-width="4.2" fill="none" stroke-linecap="butt"/><path d="M182 601.3L914.4 807.5M203.4 582.8L935.8 789M224.8 564.3L957.2 770.5M246.2 545.8L978.6 752M267.6 527.3L1000 733.5M289 508.8L1021.4 715M310.4 490.3L1042.8 696.5" stroke="#66727a" stroke-width="1.6" fill="none" stroke-linecap="butt"/><path d="M913.3 443.1L913.3 808.3M934.7 424.6L934.7 789.8M956.1 406.1L956.1 771.3M977.5 387.6L977.5 752.8M998.9 369.1L998.9 734.3M1020.3 350.6L1020.3 715.8M1041.7 332.1L1041.7 697.3" stroke="#1b1f22" stroke-width="4.2" fill="none" stroke-linecap="butt"/><path d="M913.3 443.1L913.3 808.3M934.7 424.6L934.7 789.8M956.1 406.1L956.1 771.3M977.5 387.6L977.5 752.8M998.9 369.1L998.9 734.3M1020.3 350.6L1020.3 715.8M1041.7 332.1L1041.7 697.3" stroke="#66727a" stroke-width="1.6" fill="none" stroke-linecap="butt"/><path d="M912.7 444.8L1042.3 332.6M912.7 481.1L1042.3 368.9M912.7 517.4L1042.3 405.2M912.7 553.7L1042.3 441.5M912.7 590L1042.3 477.8M912.7 626.3L1042.3 514.1M912.7 662.6L1042.3 550.4M912.7 698.9L1042.3 586.7M912.7 735.2L1042.3 623M912.7 771.5L1042.3 659.3M912.7 807.8L1042.3 695.6" stroke="#1b1f22" stroke-width="4.2" fill="none" stroke-linecap="butt"/><path d="M912.7 444.8L1042.3 332.6M912.7 481.1L1042.3 368.9M912.7 517.4L1042.3 405.2M912.7 553.7L1042.3 441.5M912.7 590L1042.3 477.8M912.7 626.3L1042.3 514.1M912.7 662.6L1042.3 550.4M912.7 698.9L1042.3 586.7M912.7 735.2L1042.3 623M912.7 771.5L1042.3 659.3M912.7 807.8L1042.3 695.6" stroke="#66727a" stroke-width="1.6" fill="none" stroke-linecap="butt"/><path d="M183.1 237.5L183.1 602.7M219.6 247.8L219.6 613M256.1 258.1L256.1 623.2M292.6 268.4L292.6 633.5M329.1 278.6L329.1 643.8M365.6 288.9L365.6 654.1M402.2 299.2L402.2 664.4M438.7 309.5L438.7 674.6M475.2 319.8L475.2 684.9M511.7 330L511.7 695.2M548.2 340.3L548.2 705.5M584.7 350.6L584.7 715.8M621.2 360.9L621.2 726M657.7 371.2L657.7 736.3M694.2 381.4L694.2 746.6M730.8 391.7L730.8 756.9M767.3 402L767.3 767.2M803.8 412.3L803.8 777.4M840.3 422.6L840.3 787.7M876.8 432.8L876.8 798M913.3 443.1L913.3 808.3" stroke="#1b1f22" stroke-width="4.2" fill="none" stroke-linecap="butt"/><path d="M183.1 237.5L183.1 602.7M219.6 247.8L219.6 613M256.1 258.1L256.1 623.2M292.6 268.4L292.6 633.5M329.1 278.6L329.1 643.8M365.6 288.9L365.6 654.1M402.2 299.2L402.2 664.4M438.7 309.5L438.7 674.6M475.2 319.8L475.2 684.9M511.7 330L511.7 695.2M548.2 340.3L548.2 705.5M584.7 350.6L584.7 715.8M621.2 360.9L621.2 726M657.7 371.2L657.7 736.3M694.2 381.4L694.2 746.6M730.8 391.7L730.8 756.9M767.3 402L767.3 767.2M803.8 412.3L803.8 777.4M840.3 422.6L840.3 787.7M876.8 432.8L876.8 798M913.3 443.1L913.3 808.3" stroke="#66727a" stroke-width="1.6" fill="none" stroke-linecap="butt"/><path d="M182 238.3L914.4 444.5M182 274.6L914.4 480.8M182 310.9L914.4 517.1M182 347.2L914.4 553.4M182 383.5L914.4 589.7M182 419.8L914.4 626M182 456.1L914.4 662.3M182 492.4L914.4 698.6M182 528.7L914.4 734.9M182 565L914.4 771.2M182 601.3L914.4 807.5" stroke="#1b1f22" stroke-width="4.2" fill="none" stroke-linecap="butt"/><path d="M182 238.3L914.4 444.5M182 274.6L914.4 480.8M182 310.9L914.4 517.1M182 347.2L914.4 553.4M182 383.5L914.4 589.7M182 419.8L914.4 626M182 456.1L914.4 662.3M182 492.4L914.4 698.6M182 528.7L914.4 734.9M182 565L914.4 771.2M182 601.3L914.4 807.5" stroke="#66727a" stroke-width="1.6" fill="none" stroke-linecap="butt"/><path d="M182.5 239.2L312.1 127M219 249.4L348.7 137.3M255.5 259.7L385.2 147.6M292 270L421.7 157.9M328.5 280.3L458.2 168.2M365 290.6L494.7 178.4M401.5 300.8L531.2 188.7M438 311.1L567.7 199M474.5 321.4L604.2 209.3M511 331.7L640.7 219.6M547.6 342L677.2 229.8M584.1 352.2L713.8 240.1M620.6 362.5L750.3 250.4M657.1 372.8L786.8 260.7M693.6 383.1L823.3 271M730.1 393.4L859.8 281.2M766.6 403.6L896.3 291.5M803.1 413.9L932.8 301.8M839.6 424.2L969.3 312.1M876.1 434.5L1005.8 322.4M912.7 444.8L1042.3 332.6" stroke="#1b1f22" stroke-width="4.2" fill="none" stroke-linecap="butt"/><path d="M182.5 239.2L312.1 127M219 249.4L348.7 137.3M255.5 259.7L385.2 147.6M292 270L421.7 157.9M328.5 280.3L458.2 168.2M365 290.6L494.7 178.4M401.5 300.8L531.2 188.7M438 311.1L567.7 199M474.5 321.4L604.2 209.3M511 331.7L640.7 219.6M547.6 342L677.2 229.8M584.1 352.2L713.8 240.1M620.6 362.5L750.3 250.4M657.1 372.8L786.8 260.7M693.6 383.1L823.3 271M730.1 393.4L859.8 281.2M766.6 403.6L896.3 291.5M803.1 413.9L932.8 301.8M839.6 424.2L969.3 312.1M876.1 434.5L1005.8 322.4M912.7 444.8L1042.3 332.6" stroke="#66727a" stroke-width="1.6" fill="none" stroke-linecap="butt"/><path d="M182 238.3L914.4 444.5M203.4 219.8L935.8 426M224.8 201.3L957.2 407.5M246.2 182.8L978.6 389M267.6 164.3L1000 370.5M289 145.8L1021.4 352M310.4 127.3L1042.8 333.5" stroke="#1b1f22" stroke-width="4.2" fill="none" stroke-linecap="butt"/><path d="M182 238.3L914.4 444.5M203.4 219.8L935.8 426M224.8 201.3L957.2 407.5M246.2 182.8L978.6 389M267.6 164.3L1000 370.5M289 145.8L1021.4 352M310.4 127.3L1042.8 333.5" stroke="#66727a" stroke-width="1.6" fill="none" stroke-linecap="butt"/><path d="M354 150 C354 143 357 141 360 142 L365 149 C362 152 356 152 354 150Z" fill="none" stroke="#151515" stroke-width="2.6" stroke-linejoin="round"/><path d="M355.2 81L355.2 103L352 103L359 115L366 103L362.7 103L362.7 81Z" fill="#9a1b1b" stroke="#2a0505" stroke-width="1.2" stroke-linejoin="round"/><path d="M224.1 260.6 C224.1 253.6 227.1 251.6 230.1 252.6 L235.1 259.6 C232.1 262.6 226.1 262.6 224.1 260.6Z" fill="none" stroke="#151515" stroke-width="2.6" stroke-linejoin="round"/><path d="M225.4 191.6L225.4 213.6L222.1 213.6L229.1 225.6L236.1 213.6L232.9 213.6L232.9 191.6Z" fill="#9a1b1b" stroke="#2a0505" stroke-width="1.2" stroke-linejoin="round"/><path d="M427 170.5 C427 163.5 430 161.5 433 162.5 L438 169.5 C435 172.5 429 172.5 427 170.5Z" fill="none" stroke="#151515" stroke-width="2.6" stroke-linejoin="round"/><path d="M428.2 101.5L428.2 123.5L425 123.5L432 135.5L439 123.5L435.7 123.5L435.7 101.5Z" fill="#9a1b1b" stroke="#2a0505" stroke-width="1.2" stroke-linejoin="round"/><path d="M297.1 281.1 C297.1 274.1 300.1 272.1 303.1 273.1 L308.1 280.1 C305.1 283.1 299.1 283.1 297.1 281.1Z" fill="none" stroke="#151515" stroke-width="2.6" stroke-linejoin="round"/><path d="M298.4 212.1L298.4 234.1L295.1 234.1L302.1 246.1L309.1 234.1L305.9 234.1L305.9 212.1Z" fill="#9a1b1b" stroke="#2a0505" stroke-width="1.2" stroke-linejoin="round"/><path d="M500 191.1 C500 184.1 503 182.1 506 183.1 L511 190.1 C508 193.1 502 193.1 500 191.1Z" fill="none" stroke="#151515" stroke-width="2.6" stroke-linejoin="round"/><path d="M501.3 122.1L501.3 144.1L498 144.1L505 156.1L512 144.1L508.8 144.1L508.8 122.1Z" fill="#9a1b1b" stroke="#2a0505" stroke-width="1.2" stroke-linejoin="round"/><path d="M370.1 301.7 C370.1 294.7 373.1 292.7 376.1 293.7 L381.1 300.7 C378.1 303.7 372.1 303.7 370.1 301.7Z" fill="none" stroke="#151515" stroke-width="2.6" stroke-linejoin="round"/><path d="M371.4 232.7L371.4 254.7L368.1 254.7L375.1 266.7L382.1 254.7L378.9 254.7L378.9 232.7Z" fill="#9a1b1b" stroke="#2a0505" stroke-width="1.2" stroke-linejoin="round"/><path d="M573 211.6 C573 204.6 576 202.6 579 203.6 L584 210.6 C581 213.6 575 213.6 573 211.6Z" fill="none" stroke="#151515" stroke-width="2.6" stroke-linejoin="round"/><path d="M574.3 142.6L574.3 164.6L571 164.6L578 176.6L585 164.6L581.8 164.6L581.8 142.6Z" fill="#9a1b1b" stroke="#2a0505" stroke-width="1.2" stroke-linejoin="round"/><path d="M443.2 322.2 C443.2 315.2 446.2 313.2 449.2 314.2 L454.2 321.2 C451.2 324.2 445.2 324.2 443.2 322.2Z" fill="none" stroke="#151515" stroke-width="2.6" stroke-linejoin="round"/><path d="M444.4 253.2L444.4 275.2L441.2 275.2L448.2 287.2L455.2 275.2L451.9 275.2L451.9 253.2Z" fill="#9a1b1b" stroke="#2a0505" stroke-width="1.2" stroke-linejoin="round"/><path d="M646 232.2 C646 225.2 649 223.2 652 224.2 L657 231.2 C654 234.2 648 234.2 646 232.2Z" fill="none" stroke="#151515" stroke-width="2.6" stroke-linejoin="round"/><path d="M647.3 163.2L647.3 185.2L644 185.2L651 197.2L658 185.2L654.8 185.2L654.8 163.2Z" fill="#9a1b1b" stroke="#2a0505" stroke-width="1.2" stroke-linejoin="round"/><path d="M516.2 342.8 C516.2 335.8 519.2 333.8 522.2 334.8 L527.2 341.8 C524.2 344.8 518.2 344.8 516.2 342.8Z" fill="none" stroke="#151515" stroke-width="2.6" stroke-linejoin="round"/><path d="M517.4 273.8L517.4 295.8L514.2 295.8L521.2 307.8L528.2 295.8L524.9 295.8L524.9 273.8Z" fill="#9a1b1b" stroke="#2a0505" stroke-width="1.2" stroke-linejoin="round"/><path d="M719.1 252.8 C719.1 245.8 722.1 243.8 725.1 244.8 L730.1 251.8 C727.1 254.8 721.1 254.8 719.1 252.8Z" fill="none" stroke="#151515" stroke-width="2.6" stroke-linejoin="round"/><path d="M720.3 183.8L720.3 205.8L717.1 205.8L724.1 217.8L731.1 205.8L727.8 205.8L727.8 183.8Z" fill="#9a1b1b" stroke="#2a0505" stroke-width="1.2" stroke-linejoin="round"/><path d="M589.2 363.4 C589.2 356.4 592.2 354.4 595.2 355.4 L600.2 362.4 C597.2 365.4 591.2 365.4 589.2 363.4Z" fill="none" stroke="#151515" stroke-width="2.6" stroke-linejoin="round"/><path d="M590.5 294.4L590.5 316.4L587.2 316.4L594.2 328.4L601.2 316.4L598 316.4L598 294.4Z" fill="#9a1b1b" stroke="#2a0505" stroke-width="1.2" stroke-linejoin="round"/><path d="M792.1 273.3 C792.1 266.3 795.1 264.3 798.1 265.3 L803.1 272.3 C800.1 275.3 794.1 275.3 792.1 273.3Z" fill="none" stroke="#151515" stroke-width="2.6" stroke-linejoin="round"/><path d="M793.3 204.3L793.3 226.3L790.1 226.3L797.1 238.3L804.1 226.3L800.8 226.3L800.8 204.3Z" fill="#9a1b1b" stroke="#2a0505" stroke-width="1.2" stroke-linejoin="round"/><path d="M662.2 383.9 C662.2 376.9 665.2 374.9 668.2 375.9 L673.2 382.9 C670.2 385.9 664.2 385.9 662.2 383.9Z" fill="none" stroke="#151515" stroke-width="2.6" stroke-linejoin="round"/><path d="M663.5 314.9L663.5 336.9L660.2 336.9L667.2 348.9L674.2 336.9L671 336.9L671 314.9Z" fill="#9a1b1b" stroke="#2a0505" stroke-width="1.2" stroke-linejoin="round"/><path d="M865.1 293.9 C865.1 286.9 868.1 284.9 871.1 285.9 L876.1 292.9 C873.1 295.9 867.1 295.9 865.1 293.9Z" fill="none" stroke="#151515" stroke-width="2.6" stroke-linejoin="round"/><path d="M866.4 224.9L866.4 246.9L863.1 246.9L870.1 258.9L877.1 246.9L873.9 246.9L873.9 224.9Z" fill="#9a1b1b" stroke="#2a0505" stroke-width="1.2" stroke-linejoin="round"/><path d="M735.2 404.5 C735.2 397.5 738.2 395.5 741.2 396.5 L746.2 403.5 C743.2 406.5 737.2 406.5 735.2 404.5Z" fill="none" stroke="#151515" stroke-width="2.6" stroke-linejoin="round"/><path d="M736.5 335.5L736.5 357.5L733.2 357.5L740.2 369.5L747.2 357.5L744 357.5L744 335.5Z" fill="#9a1b1b" stroke="#2a0505" stroke-width="1.2" stroke-linejoin="round"/><path d="M938.1 314.4 C938.1 307.4 941.1 305.4 944.1 306.4 L949.1 313.4 C946.1 316.4 940.1 316.4 938.1 314.4Z" fill="none" stroke="#151515" stroke-width="2.6" stroke-linejoin="round"/><path d="M939.4 245.4L939.4 267.4L936.1 267.4L943.1 279.4L950.1 267.4L946.9 267.4L946.9 245.4Z" fill="#9a1b1b" stroke="#2a0505" stroke-width="1.2" stroke-linejoin="round"/><path d="M808.3 425 C808.3 418 811.3 416 814.3 417 L819.3 424 C816.3 427 810.3 427 808.3 425Z" fill="none" stroke="#151515" stroke-width="2.6" stroke-linejoin="round"/><path d="M809.5 356L809.5 378L806.3 378L813.3 390L820.3 378L817 378L817 356Z" fill="#9a1b1b" stroke="#2a0505" stroke-width="1.2" stroke-linejoin="round"/><path d="M1011.1 335 C1011.1 328 1014.1 326 1017.1 327 L1022.1 334 C1019.1 337 1013.1 337 1011.1 335Z" fill="none" stroke="#151515" stroke-width="2.6" stroke-linejoin="round"/><path d="M1012.4 266L1012.4 288L1009.1 288L1016.1 300L1023.1 288L1019.9 288L1019.9 266Z" fill="#9a1b1b" stroke="#2a0505" stroke-width="1.2" stroke-linejoin="round"/><path d="M881.3 445.6 C881.3 438.6 884.3 436.6 887.3 437.6 L892.3 444.6 C889.3 447.6 883.3 447.6 881.3 445.6Z" fill="none" stroke="#151515" stroke-width="2.6" stroke-linejoin="round"/><path d="M882.5 376.6L882.5 398.6L879.3 398.6L886.3 410.6L893.3 398.6L890 398.6L890 376.6Z" fill="#9a1b1b" stroke="#2a0505" stroke-width="1.2" stroke-linejoin="round"/><path d="M1019.5 290.1L1019.5 312.1L1016.2 312.1L1023.2 324.1L1030.2 312.1L1027 312.1L1027 290.1Z" fill="#9a1b1b" stroke="#2a0505" stroke-width="1.2" stroke-linejoin="round"/><path d="M977.4 328.3L977.4 350.3L974.1 350.3L981.1 362.3L988.1 350.3L984.9 350.3L984.9 328.3Z" fill="#9a1b1b" stroke="#2a0505" stroke-width="1.2" stroke-linejoin="round"/><path d="M935.4 364.2L935.4 386.2L932.1 386.2L939.1 398.2L946.1 386.2L942.9 386.2L942.9 364.2Z" fill="#9a1b1b" stroke="#2a0505" stroke-width="1.2" stroke-linejoin="round"/>
<rect x="41.6" y="41.6" width="1157" height="794" fill="none" stroke="#111" stroke-width="1.7"/><rect x="1086.6" y="814.6" width="112" height="20.9" fill="none" stroke="#111" stroke-width="1.7"/><text x="1089" y="822.5" font-family="Liberation Sans" font-size="6" fill="#333">Seite</text><text x="1146" y="829.8" text-anchor="middle" font-family="Liberation Sans" font-size="13" fill="#111">8 von 8</text><text x="1191" y="805.5" text-anchor="end" font-family="Liberation Sans" font-size="70" fill="#000">8</text>
</g>
</svg></body></html>
